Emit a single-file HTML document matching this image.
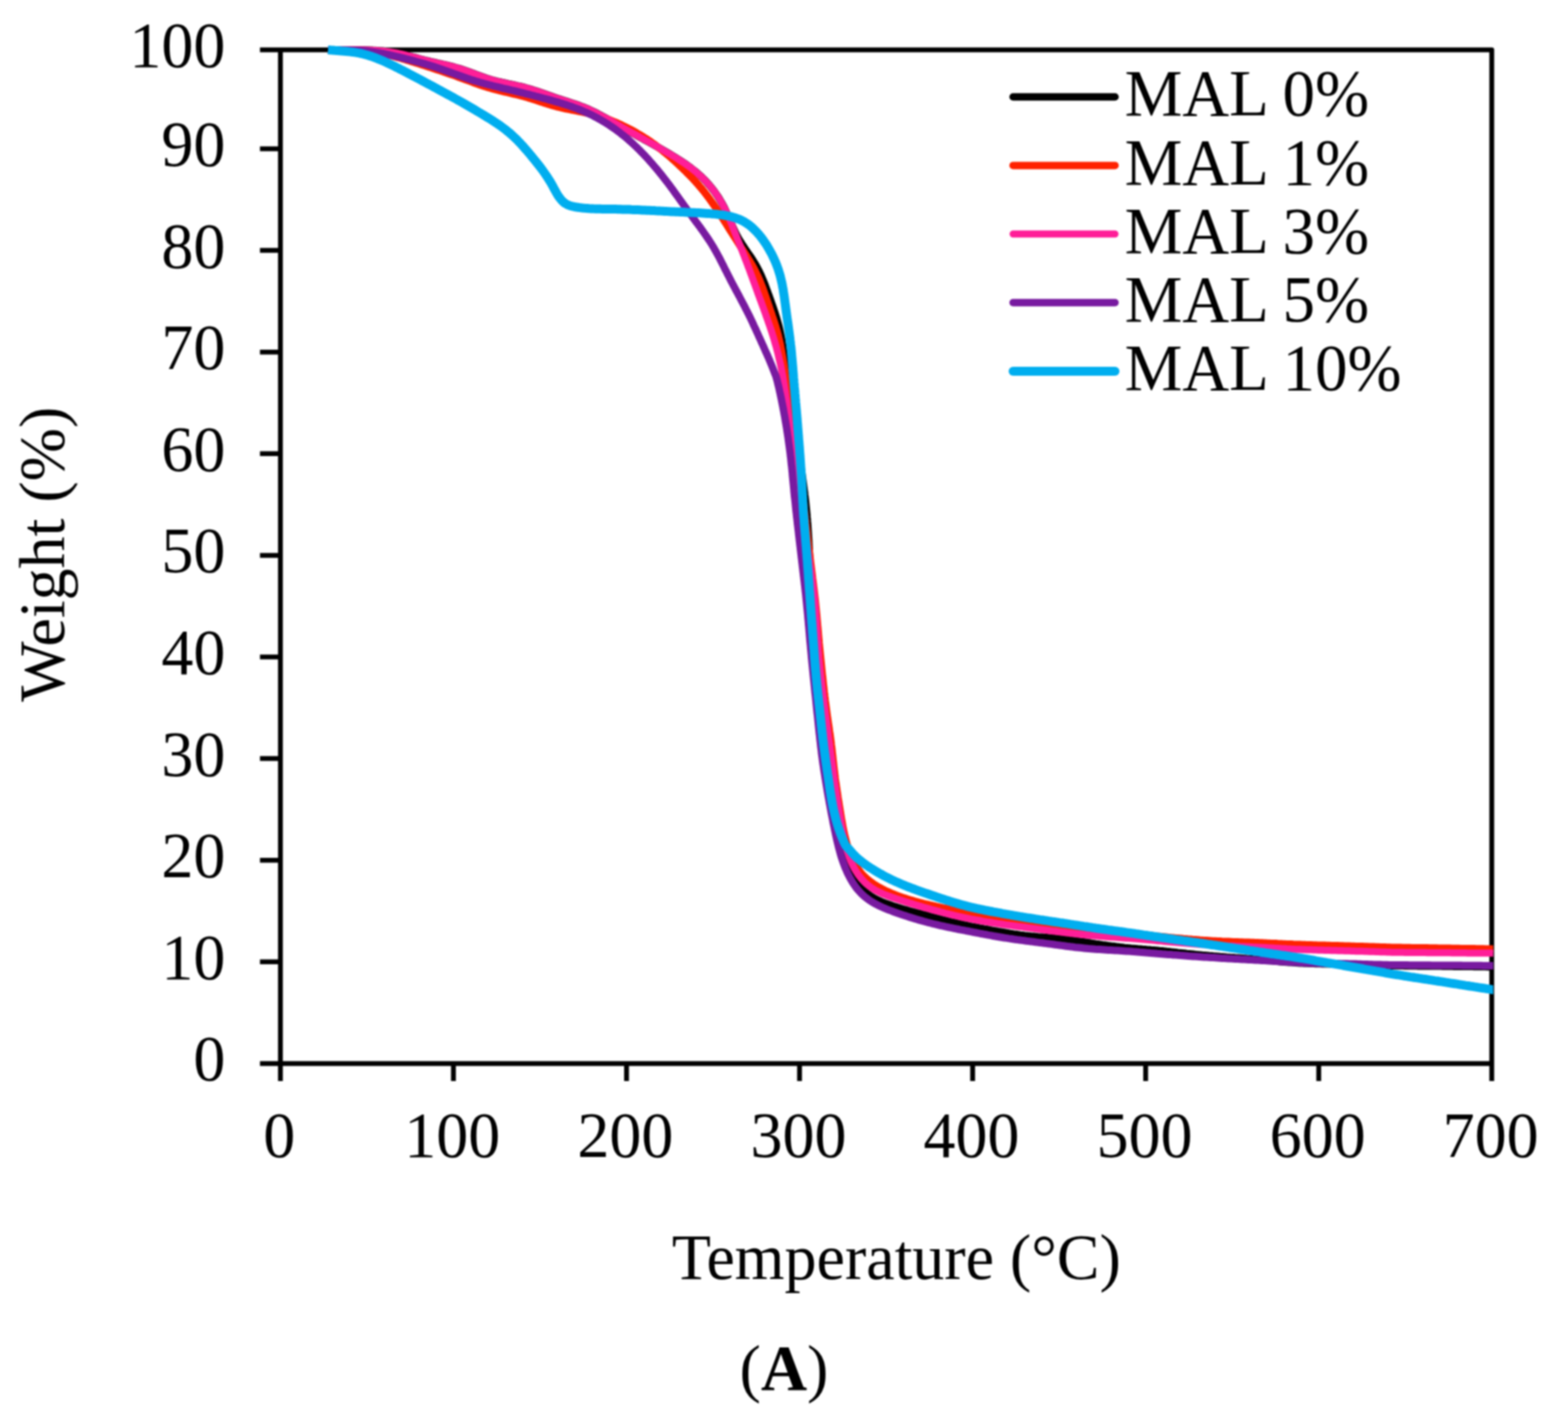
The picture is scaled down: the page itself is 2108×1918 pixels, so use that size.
<!DOCTYPE html>
<html><head><meta charset="utf-8"><title>TGA curves</title>
<style>html,body{margin:0;padding:0;background:#fff;overflow:hidden;}svg{display:block;filter:blur(0.9px);}</style>
</head><body>
<svg width="2108" height="1918" viewBox="0 0 2108 1918">
<rect width="2108" height="1918" fill="#ffffff"/>
<defs><clipPath id="pa"><rect x="377.0" y="50.0" width="1630.5" height="1379.4"/></clipPath></defs>
<path d="M349.5,67.0 H2005.5 V1429.4 M377.0,67.0 V1453.0 M349.5,1429.4 H2005.5 M349.5,1429.4 H377.0 M349.5,1292.8 H377.0 M349.5,1156.2 H377.0 M349.5,1019.6 H377.0 M349.5,883.0 H377.0 M349.5,746.4 H377.0 M349.5,609.8 H377.0 M349.5,473.2 H377.0 M349.5,336.6 H377.0 M349.5,200.0 H377.0 M377.0,1429.4 V1453.0 M609.6,1429.4 V1453.0 M842.3,1429.4 V1453.0 M1074.9,1429.4 V1453.0 M1307.6,1429.4 V1453.0 M1540.2,1429.4 V1453.0 M1772.9,1429.4 V1453.0 M2005.5,1429.4 V1453.0" fill="none" stroke="#000" stroke-width="6.5" stroke-linejoin="round"/>
<g clip-path="url(#pa)" fill="none" stroke-linejoin="round" stroke-linecap="butt">
<path stroke="#000000" stroke-width="10.0" d="M441.0,67.0 L444.0,67.0 L447.0,67.1 L450.0,67.1 L453.0,67.1 L456.0,67.1 L459.0,67.0 L462.0,67.0 L465.0,67.0 L468.0,67.0 L471.0,67.0 L474.0,67.0 L477.0,67.0 L480.0,67.0 L483.0,67.0 L486.0,67.1 L489.0,67.1 L492.0,67.2 L495.0,67.3 L498.0,67.4 L501.0,67.6 L504.0,67.7 L507.0,67.9 L510.0,68.2 L513.0,68.4 L516.0,68.8 L518.9,69.1 L521.9,69.5 L524.9,69.9 L527.8,70.4 L530.8,70.9 L533.7,71.5 L536.7,72.1 L539.6,72.7 L542.5,73.4 L545.5,74.1 L548.4,74.8 L551.3,75.6 L554.2,76.4 L557.1,77.1 L560.0,77.9 L562.9,78.7 L565.8,79.5 L568.7,80.2 L571.6,81.0 L574.5,81.7 L577.4,82.4 L580.3,83.1 L583.2,83.7 L586.2,84.4 L589.1,85.1 L592.0,85.7 L595.0,86.4 L597.9,87.0 L600.8,87.7 L603.7,88.4 L606.6,89.1 L609.5,89.9 L612.4,90.7 L615.3,91.5 L618.2,92.3 L621.1,93.3 L623.9,94.2 L626.7,95.2 L629.6,96.2 L632.4,97.2 L635.2,98.3 L638.0,99.3 L640.8,100.4 L643.6,101.4 L646.4,102.5 L649.3,103.5 L652.1,104.5 L654.9,105.4 L657.8,106.4 L660.7,107.2 L663.6,108.0 L666.5,108.8 L669.4,109.5 L672.3,110.2 L675.2,110.9 L678.1,111.5 L681.1,112.1 L684.0,112.8 L687.0,113.4 L689.9,114.0 L692.8,114.6 L695.8,115.3 L698.7,115.9 L701.6,116.6 L704.5,117.4 L707.4,118.2 L710.3,119.0 L713.2,119.8 L716.0,120.7 L718.9,121.7 L721.7,122.6 L724.6,123.6 L727.4,124.5 L730.2,125.5 L733.1,126.5 L735.9,127.5 L738.7,128.5 L741.6,129.5 L744.4,130.5 L747.2,131.4 L750.1,132.4 L752.9,133.3 L755.8,134.2 L758.7,135.2 L761.5,136.1 L764.4,137.0 L767.2,137.9 L770.1,138.9 L772.9,139.8 L775.8,140.8 L778.6,141.8 L781.4,142.9 L784.2,143.9 L787.0,145.1 L789.7,146.2 L792.5,147.4 L795.2,148.7 L797.9,150.0 L800.6,151.3 L803.3,152.7 L805.9,154.1 L808.6,155.5 L811.2,157.0 L813.8,158.4 L816.4,159.9 L819.0,161.4 L821.6,162.9 L824.2,164.4 L826.8,165.9 L829.4,167.4 L832.1,168.9 L834.7,170.3 L837.3,171.8 L839.9,173.3 L842.5,174.7 L845.2,176.2 L847.8,177.6 L850.4,179.0 L853.1,180.5 L855.7,181.9 L858.3,183.3 L861.0,184.8 L863.6,186.2 L866.2,187.7 L868.9,189.1 L871.5,190.5 L874.1,192.0 L876.7,193.4 L879.4,194.9 L882.0,196.4 L884.6,197.8 L887.2,199.3 L889.8,200.8 L892.4,202.3 L895.0,203.8 L897.6,205.3 L900.2,206.8 L902.8,208.4 L905.3,210.0 L907.9,211.5 L910.4,213.1 L912.9,214.7 L915.5,216.4 L918.0,218.0 L920.4,219.7 L922.9,221.4 L925.4,223.2 L927.8,224.9 L930.2,226.8 L932.5,228.6 L934.9,230.5 L937.2,232.4 L939.4,234.4 L941.7,236.4 L943.8,238.4 L946.0,240.5 L948.1,242.7 L950.1,244.9 L952.1,247.1 L954.1,249.4 L956.0,251.7 L957.9,254.1 L959.7,256.4 L961.5,258.9 L963.2,261.3 L964.9,263.8 L966.5,266.3 L968.1,268.9 L969.6,271.5 L971.1,274.1 L972.5,276.7 L973.9,279.4 L981.3,295.9 L982.5,298.7 L983.6,301.5 L984.8,304.2 L986.0,307.0 L987.3,309.7 L988.6,312.4 L989.9,315.1 L991.3,317.7 L992.8,320.4 L994.3,323.0 L995.9,325.5 L997.5,328.0 L999.2,330.5 L1000.8,333.0 L1002.5,335.5 L1004.2,338.0 L1005.9,340.5 L1007.6,342.9 L1009.3,345.4 L1011.0,347.9 L1012.6,350.4 L1014.2,353.0 L1015.7,355.6 L1017.2,358.2 L1018.6,360.8 L1020.0,363.5 L1021.3,366.2 L1022.6,368.9 L1023.8,371.6 L1025.0,374.4 L1026.2,377.2 L1027.3,379.9 L1028.4,382.7 L1029.4,385.5 L1030.5,388.4 L1031.5,391.2 L1032.5,394.0 L1033.6,396.8 L1034.6,399.6 L1035.6,402.5 L1036.6,405.3 L1037.6,408.1 L1038.6,411.0 L1039.6,413.8 L1040.5,416.6 L1041.5,419.5 L1042.4,422.3 L1043.3,425.2 L1044.2,428.1 L1045.0,431.0 L1045.8,433.8 L1046.6,436.7 L1047.4,439.7 L1048.1,442.6 L1048.7,445.5 L1049.3,448.4 L1049.9,451.4 L1050.4,454.3 L1051.0,457.3 L1051.4,460.3 L1051.9,463.2 L1052.4,466.2 L1052.8,469.2 L1053.2,472.1 L1053.6,475.1 L1054.0,478.1 L1054.4,481.1 L1054.8,484.0 L1055.2,487.0 L1055.6,490.0 L1056.0,493.0 L1056.4,495.9 L1056.8,498.9 L1057.2,501.9 L1057.6,504.8 L1058.1,507.8 L1058.5,510.8 L1059.0,513.8 L1059.4,516.7 L1059.9,519.7 L1060.3,522.7 L1060.8,525.6 L1061.3,528.6 L1061.8,531.5 L1062.3,534.5 L1062.8,537.5 L1063.3,540.4 L1063.8,543.4 L1064.3,546.3 L1064.9,549.3 L1065.4,552.2 L1065.9,555.2 L1066.4,558.2 L1066.9,561.1 L1067.4,564.1 L1067.9,567.0 L1068.4,570.0 L1068.9,573.0 L1069.4,575.9 L1069.9,578.9 L1070.3,581.8 L1070.8,584.8 L1071.2,587.8 L1071.7,590.7 L1072.1,593.7 L1072.5,596.7 L1073.0,599.7 L1073.4,602.6 L1073.8,605.6 L1074.2,608.6 L1074.6,611.6 L1075.0,614.5 L1075.4,617.5 L1075.9,620.5 L1076.3,623.4 L1076.7,626.4 L1077.1,629.4 L1077.5,632.4 L1078.0,635.3 L1078.4,638.3 L1078.8,641.3 L1079.2,644.2 L1079.6,647.2 L1080.0,650.2 L1080.4,653.2 L1080.8,656.1 L1081.2,659.1 L1081.6,662.1 L1081.9,665.1 L1082.3,668.1 L1082.6,671.0 L1083.0,674.0 L1083.3,677.0 L1083.6,680.0 L1083.9,683.0 L1084.2,686.0 L1084.5,689.0 L1084.8,691.9 L1085.0,694.9 L1085.3,697.9 L1085.5,700.9 L1085.8,703.9 L1086.0,706.9 L1086.2,709.9 L1086.4,712.9 L1086.6,715.9 L1086.8,718.9 L1087.0,721.9 L1087.2,724.9 L1087.4,727.9 L1087.5,730.9 L1087.7,733.9 L1087.8,736.9 L1088.0,739.9 L1088.1,742.8 L1088.3,745.8 L1088.4,748.8 L1088.6,751.8 L1088.7,754.8 L1088.9,757.8 L1089.1,760.8 L1089.2,763.8 L1089.4,766.8 L1089.6,769.8 L1089.7,772.8 L1089.9,775.8 L1090.1,778.8 L1090.3,781.8 L1090.5,784.8 L1090.7,787.8 L1090.9,790.8 L1091.1,793.8 L1091.3,796.8 L1091.5,799.8 L1091.7,802.8 L1091.9,805.8 L1092.2,808.8 L1092.4,811.7 L1092.6,814.7 L1092.9,817.7 L1093.1,820.7 L1093.4,823.7 L1093.6,826.7 L1093.8,829.7 L1094.1,832.7 L1094.3,835.7 L1094.6,838.7 L1094.8,841.7 L1095.1,844.7 L1095.3,847.6 L1095.6,850.6 L1095.8,853.6 L1096.0,856.6 L1096.3,859.6 L1096.5,862.6 L1096.7,865.6 L1097.0,868.6 L1097.2,871.6 L1097.4,874.6 L1097.7,877.6 L1097.9,880.6 L1098.2,883.6 L1098.4,886.5 L1098.6,889.5 L1098.9,892.5 L1099.1,895.5 L1099.4,898.5 L1099.6,901.5 L1099.9,904.5 L1100.2,907.5 L1100.4,910.5 L1100.7,913.5 L1101.0,916.4 L1101.3,919.4 L1101.5,922.4 L1101.8,925.4 L1102.1,928.4 L1102.4,931.4 L1102.8,934.4 L1103.1,937.4 L1103.4,940.3 L1103.7,943.3 L1104.1,946.3 L1104.4,949.3 L1104.8,952.3 L1105.1,955.2 L1105.5,958.2 L1105.9,961.2 L1106.2,964.2 L1106.6,967.2 L1106.9,970.1 L1107.3,973.1 L1107.7,976.1 L1108.0,979.1 L1108.4,982.1 L1108.7,985.0 L1109.1,988.0 L1109.4,991.0 L1109.8,994.0 L1110.1,997.0 L1110.5,999.9 L1110.9,1002.9 L1111.2,1005.9 L1111.6,1008.9 L1111.9,1011.9 L1112.3,1014.8 L1112.7,1017.8 L1113.1,1020.8 L1113.5,1023.8 L1113.9,1026.7 L1114.3,1029.7 L1114.8,1032.7 L1115.2,1035.6 L1115.7,1038.6 L1116.1,1041.6 L1116.6,1044.5 L1117.0,1047.5 L1117.5,1050.5 L1118.0,1053.4 L1118.5,1056.4 L1119.0,1059.4 L1119.4,1062.3 L1119.9,1065.3 L1120.4,1068.3 L1120.9,1071.2 L1121.3,1074.2 L1121.8,1077.1 L1122.3,1080.1 L1122.7,1083.1 L1123.2,1086.0 L1123.7,1089.0 L1124.2,1092.0 L1124.7,1094.9 L1125.2,1097.9 L1125.7,1100.8 L1126.2,1103.8 L1126.8,1106.7 L1127.3,1109.7 L1127.9,1112.6 L1128.5,1115.6 L1129.1,1118.5 L1129.8,1121.4 L1130.5,1124.4 L1131.2,1127.3 L1131.9,1130.2 L1132.7,1133.1 L1133.5,1136.0 L1134.3,1138.9 L1135.1,1141.8 L1136.0,1144.6 L1136.9,1147.5 L1137.8,1150.4 L1138.7,1153.2 L1139.7,1156.1 L1140.7,1158.9 L1141.7,1161.7 L1142.8,1164.5 L1143.9,1167.3 L1145.0,1170.1 L1146.2,1172.9 L1147.4,1175.6 L1148.7,1178.3 L1150.1,1180.9 L1151.6,1183.6 L1153.1,1186.1 L1154.8,1188.6 L1156.5,1191.1 L1158.4,1193.4 L1160.4,1195.7 L1162.4,1197.9 L1164.7,1199.9 L1167.0,1201.8 L1169.4,1203.6 L1171.9,1205.2 L1174.5,1206.8 L1177.1,1208.2 L1179.8,1209.6 L1182.5,1210.9 L1185.2,1212.1 L1188.0,1213.2 L1190.8,1214.3 L1193.6,1215.3 L1196.5,1216.3 L1199.3,1217.3 L1202.2,1218.2 L1205.0,1219.1 L1207.9,1220.0 L1210.8,1220.9 L1213.6,1221.7 L1216.5,1222.5 L1219.4,1223.4 L1222.3,1224.2 L1225.2,1225.0 L1228.1,1225.8 L1231.0,1226.6 L1233.9,1227.3 L1236.8,1228.1 L1239.7,1228.9 L1242.6,1229.6 L1245.5,1230.4 L1248.4,1231.2 L1251.3,1232.0 L1254.2,1232.7 L1257.1,1233.5 L1260.0,1234.3 L1262.9,1235.0 L1265.8,1235.8 L1268.7,1236.5 L1271.6,1237.3 L1274.5,1238.0 L1277.4,1238.8 L1280.3,1239.5 L1283.3,1240.2 L1286.2,1240.9 L1289.1,1241.6 L1292.0,1242.2 L1295.0,1242.9 L1297.9,1243.5 L1300.8,1244.1 L1303.8,1244.8 L1306.7,1245.4 L1309.6,1245.9 L1312.6,1246.5 L1315.5,1247.1 L1318.5,1247.7 L1321.4,1248.2 L1324.4,1248.8 L1327.3,1249.3 L1330.3,1249.8 L1333.2,1250.4 L1336.2,1250.9 L1339.2,1251.4 L1342.1,1252.0 L1345.1,1252.5 L1348.0,1253.0 L1351.0,1253.5 L1353.9,1254.0 L1356.9,1254.5 L1359.9,1254.9 L1362.8,1255.4 L1365.8,1255.8 L1368.8,1256.3 L1371.7,1256.7 L1374.7,1257.0 L1377.7,1257.4 L1380.7,1257.7 L1383.7,1258.1 L1386.7,1258.4 L1389.6,1258.6 L1392.6,1258.9 L1395.6,1259.2 L1398.6,1259.4 L1401.6,1259.6 L1404.6,1259.9 L1407.6,1260.1 L1410.6,1260.4 L1413.6,1260.6 L1416.6,1260.9 L1419.6,1261.2 L1422.5,1261.5 L1425.5,1261.8 L1428.5,1262.1 L1431.5,1262.5 L1434.5,1262.8 L1437.4,1263.2 L1440.4,1263.6 L1443.4,1264.1 L1446.4,1264.5 L1449.3,1264.9 L1452.3,1265.4 L1455.3,1265.8 L1458.2,1266.3 L1461.2,1266.8 L1464.2,1267.2 L1467.1,1267.7 L1470.1,1268.1 L1473.1,1268.6 L1476.0,1269.0 L1479.0,1269.4 L1482.0,1269.9 L1484.9,1270.3 L1487.9,1270.7 L1490.9,1271.1 L1493.9,1271.5 L1496.9,1271.8 L1499.8,1272.2 L1502.8,1272.6 L1505.8,1272.9 L1508.8,1273.2 L1511.8,1273.6 L1514.7,1273.9 L1517.7,1274.2 L1520.7,1274.5 L1523.7,1274.7 L1526.7,1275.0 L1529.7,1275.3 L1532.7,1275.5 L1535.7,1275.8 L1538.7,1276.0 L1541.6,1276.3 L1544.6,1276.5 L1547.6,1276.8 L1550.6,1277.0 L1553.6,1277.3 L1556.6,1277.6 L1559.6,1277.9 L1562.6,1278.1 L1565.6,1278.4 L1568.5,1278.8 L1571.5,1279.1 L1574.5,1279.4 L1577.5,1279.7 L1580.5,1280.0 L1583.5,1280.4 L1586.5,1280.7 L1589.4,1281.0 L1592.4,1281.3 L1595.4,1281.7 L1598.4,1282.0 L1601.4,1282.3 L1604.4,1282.6 L1607.3,1282.9 L1610.3,1283.2 L1613.3,1283.5 L1616.3,1283.8 L1619.3,1284.0 L1622.3,1284.3 L1625.3,1284.6 L1628.3,1284.8 L1631.3,1285.1 L1634.2,1285.3 L1637.2,1285.5 L1640.2,1285.8 L1643.2,1286.0 L1646.2,1286.2 L1649.2,1286.5 L1652.2,1286.7 L1655.2,1286.9 L1658.2,1287.1 L1661.2,1287.4 L1664.2,1287.6 L1667.2,1287.8 L1670.2,1288.0 L1673.2,1288.2 L1676.1,1288.5 L1679.1,1288.7 L1682.1,1288.9 L1685.1,1289.2 L1688.1,1289.4 L1691.1,1289.7 L1694.1,1289.9 L1697.1,1290.2 L1700.1,1290.5 L1703.1,1290.7 L1706.1,1291.0 L1709.0,1291.3 L1712.0,1291.6 L1715.0,1291.9 L1718.0,1292.1 L1721.0,1292.4 L1724.0,1292.7 L1727.0,1292.9 L1730.0,1293.2 L1733.0,1293.4 L1736.0,1293.6 L1738.9,1293.8 L1741.9,1294.0 L1744.9,1294.2 L1747.9,1294.4 L1750.9,1294.5 L1753.9,1294.7 L1756.9,1294.8 L1759.9,1294.9 L1762.9,1295.0 L1765.9,1295.1 L1768.9,1295.2 L1771.9,1295.2 L1774.9,1295.3 L1777.9,1295.4 L1780.9,1295.5 L1783.9,1295.5 L1786.9,1295.6 L1789.9,1295.7 L1792.9,1295.7 L1795.9,1295.8 L1798.9,1295.9 L1801.9,1295.9 L1804.9,1296.0 L1807.9,1296.1 L1810.9,1296.2 L1813.9,1296.2 L1816.9,1296.3 L1819.9,1296.4 L1822.9,1296.5 L1825.9,1296.6 L1828.9,1296.6 L1831.9,1296.7 L1834.9,1296.8 L1837.9,1296.9 L1840.9,1297.0 L1843.9,1297.1 L1846.9,1297.2 L1849.9,1297.3 L1852.9,1297.4 L1855.9,1297.5 L1858.9,1297.6 L1861.9,1297.6 L1864.9,1297.7 L1867.9,1297.8 L1870.9,1297.9 L1873.9,1297.9 L1876.9,1298.0 L1879.9,1298.0 L1882.9,1298.1 L1885.9,1298.1 L1888.9,1298.2 L1892.0,1298.2 L1895.0,1298.3 L1898.0,1298.3 L1901.0,1298.3 L1904.0,1298.3 L1907.0,1298.4 L1910.0,1298.4 L1913.0,1298.4 L1916.0,1298.4 L1919.0,1298.5 L1922.0,1298.5 L1925.0,1298.5 L1928.0,1298.5 L1931.0,1298.6 L1934.0,1298.6 L1937.0,1298.6 L1940.0,1298.7 L1943.0,1298.7 L1946.0,1298.8 L1949.0,1298.8 L1952.0,1298.8 L1955.0,1298.9 L1958.0,1298.9 L1961.0,1298.9 L1964.0,1299.0 L1967.0,1299.0 L1970.0,1299.0 L1973.0,1299.1 L1976.0,1299.1 L1979.0,1299.1 L1982.0,1299.2 L1985.0,1299.2 L1988.0,1299.2 L1991.0,1299.3 L1994.0,1299.3 L1997.0,1299.3 L2000.0,1299.4 L2003.0,1299.4 L2006.0,1299.4 L2009.0,1299.5 L2012.0,1299.5"/>
<path stroke="#FF2200" stroke-width="10.0" d="M441.0,67.0 L444.0,67.2 L447.0,67.3 L450.0,67.4 L453.0,67.4 L456.0,67.4 L459.0,67.5 L462.0,67.5 L465.0,67.5 L468.0,67.5 L471.0,67.5 L474.0,67.5 L477.0,67.6 L480.0,67.7 L483.0,67.8 L486.0,68.0 L489.0,68.3 L492.0,68.6 L495.0,68.9 L498.0,69.3 L500.9,69.7 L503.9,70.2 L506.9,70.7 L509.8,71.3 L512.8,71.8 L515.7,72.5 L518.6,73.1 L521.5,73.8 L524.5,74.5 L527.4,75.2 L530.3,76.0 L533.2,76.8 L536.1,77.5 L539.0,78.3 L541.9,79.2 L544.8,80.0 L547.6,80.9 L550.5,81.7 L553.4,82.6 L556.2,83.5 L559.1,84.4 L562.0,85.3 L564.8,86.2 L567.7,87.1 L570.6,88.0 L573.4,89.0 L576.3,89.9 L579.1,90.8 L582.0,91.8 L584.8,92.7 L587.7,93.7 L590.5,94.6 L593.4,95.6 L596.2,96.5 L599.0,97.5 L601.9,98.5 L604.7,99.5 L607.6,100.4 L610.4,101.4 L613.2,102.4 L616.1,103.5 L618.9,104.5 L621.7,105.5 L624.5,106.5 L627.3,107.6 L630.2,108.6 L633.0,109.6 L635.8,110.7 L638.6,111.7 L641.5,112.7 L644.3,113.7 L647.1,114.7 L650.0,115.6 L652.8,116.5 L655.7,117.4 L658.6,118.3 L661.5,119.1 L664.4,119.9 L667.3,120.7 L670.2,121.4 L673.1,122.2 L676.0,122.9 L678.9,123.6 L681.8,124.2 L684.8,124.9 L687.7,125.6 L690.6,126.3 L693.5,127.0 L696.5,127.7 L699.4,128.4 L702.3,129.2 L705.2,129.9 L708.1,130.8 L710.9,131.6 L713.8,132.5 L716.7,133.4 L719.5,134.3 L722.4,135.3 L725.2,136.2 L728.1,137.1 L730.9,138.1 L733.8,139.0 L736.7,139.9 L739.5,140.8 L742.4,141.7 L745.3,142.5 L748.2,143.3 L751.1,144.0 L754.0,144.7 L757.0,145.4 L759.9,146.0 L762.8,146.6 L765.8,147.2 L768.7,147.8 L771.7,148.3 L774.6,148.9 L777.6,149.5 L780.5,150.1 L783.5,150.7 L786.4,151.3 L789.3,151.9 L792.3,152.6 L795.2,153.3 L798.1,154.1 L801.0,154.9 L803.8,155.7 L806.7,156.6 L809.6,157.6 L812.4,158.5 L815.2,159.5 L818.0,160.6 L820.8,161.7 L823.6,162.8 L826.4,164.0 L829.2,165.1 L831.9,166.4 L834.6,167.6 L837.3,168.9 L840.0,170.2 L842.7,171.6 L845.4,172.9 L848.1,174.3 L850.7,175.7 L853.3,177.2 L856.0,178.7 L858.5,180.2 L861.1,181.7 L863.7,183.3 L866.2,184.9 L868.8,186.5 L871.3,188.2 L873.8,189.8 L876.2,191.6 L878.7,193.3 L881.1,195.1 L883.5,196.9 L885.9,198.7 L888.3,200.5 L890.6,202.4 L892.9,204.3 L895.2,206.2 L897.5,208.1 L899.8,210.1 L902.1,212.1 L904.3,214.1 L906.6,216.1 L908.8,218.1 L911.0,220.1 L913.2,222.2 L915.4,224.2 L917.6,226.3 L919.7,228.4 L921.9,230.5 L924.0,232.6 L926.1,234.7 L928.2,236.9 L930.3,239.0 L932.3,241.2 L934.4,243.4 L936.4,245.7 L938.4,247.9 L940.3,250.2 L942.3,252.5 L944.2,254.8 L946.1,257.1 L947.9,259.5 L949.8,261.9 L951.6,264.3 L953.4,266.7 L955.1,269.1 L956.9,271.6 L958.6,274.0 L960.3,276.5 L962.0,279.0 L963.6,281.5 L965.3,284.0 L967.0,286.5 L968.6,289.0 L970.2,291.5 L971.9,294.0 L973.5,296.6 L975.1,299.1 L976.7,301.6 L978.3,304.2 L979.9,306.7 L981.5,309.3 L983.1,311.8 L984.7,314.3 L986.3,316.9 L987.9,319.4 L989.5,321.9 L991.2,324.5 L992.8,327.0 L994.4,329.5 L996.0,332.1 L997.6,334.6 L999.3,337.1 L1000.9,339.6 L1002.5,342.2 L1004.1,344.7 L1005.7,347.3 L1007.2,349.8 L1008.8,352.4 L1010.3,355.0 L1011.8,357.6 L1013.2,360.2 L1014.6,362.9 L1016.0,365.6 L1017.3,368.3 L1018.6,371.0 L1019.9,373.7 L1021.1,376.5 L1022.2,379.2 L1023.3,382.0 L1024.4,384.8 L1025.5,387.6 L1026.5,390.5 L1027.5,393.3 L1028.5,396.1 L1029.5,399.0 L1030.4,401.8 L1031.4,404.6 L1032.3,407.5 L1033.3,410.3 L1034.3,413.2 L1035.2,416.0 L1036.2,418.9 L1037.2,421.7 L1038.1,424.6 L1039.1,427.4 L1040.0,430.3 L1041.0,433.1 L1041.9,436.0 L1042.8,438.8 L1043.6,441.7 L1044.5,444.6 L1045.3,447.5 L1046.1,450.4 L1046.8,453.3 L1047.5,456.2 L1048.2,459.1 L1048.9,462.1 L1049.5,465.0 L1050.0,467.9 L1050.6,470.9 L1051.1,473.9 L1051.6,476.8 L1052.1,479.8 L1052.6,482.7 L1053.1,485.7 L1053.5,488.7 L1054.0,491.6 L1054.4,494.6 L1054.9,497.6 L1055.3,500.6 L1055.8,503.5 L1056.3,506.5 L1056.7,509.5 L1057.2,512.4 L1057.7,515.4 L1058.1,518.4 L1058.6,521.3 L1059.1,524.3 L1059.5,527.2 L1060.0,530.2 L1060.5,533.2 L1060.9,536.1 L1061.4,539.1 L1061.8,542.1 L1062.3,545.1 L1062.7,548.0 L1063.2,551.0 L1063.6,554.0 L1064.0,556.9 L1064.4,559.9 L1064.8,562.9 L1065.2,565.9 L1065.7,568.8 L1066.1,571.8 L1066.5,574.8 L1066.9,577.8 L1067.3,580.7 L1067.7,583.7 L1068.1,586.7 L1068.5,589.7 L1068.9,592.6 L1069.4,595.6 L1069.8,598.6 L1070.2,601.6 L1070.6,604.5 L1071.1,607.5 L1071.5,610.5 L1071.9,613.4 L1072.4,616.4 L1072.8,619.4 L1073.2,622.4 L1073.6,625.3 L1074.1,628.3 L1074.5,631.3 L1074.9,634.2 L1075.3,637.2 L1075.7,640.2 L1076.1,643.2 L1076.5,646.2 L1076.9,649.1 L1077.3,652.1 L1077.6,655.1 L1078.0,658.1 L1078.4,661.0 L1078.8,664.0 L1079.1,667.0 L1079.5,670.0 L1079.8,673.0 L1080.2,676.0 L1080.5,678.9 L1080.9,681.9 L1081.2,684.9 L1081.6,687.9 L1081.9,690.9 L1082.3,693.8 L1082.6,696.8 L1083.0,699.8 L1083.3,702.8 L1083.7,705.8 L1084.0,708.8 L1084.4,711.7 L1084.7,714.7 L1085.1,717.7 L1085.4,720.7 L1085.8,723.7 L1086.1,726.7 L1086.5,729.6 L1086.8,732.6 L1087.2,735.6 L1087.6,738.6 L1088.0,741.6 L1088.3,744.5 L1088.7,747.5 L1089.1,750.5 L1089.4,753.5 L1089.8,756.5 L1090.2,759.4 L1090.6,762.4 L1090.9,765.4 L1091.3,768.4 L1091.7,771.3 L1092.1,774.3 L1092.4,777.3 L1092.8,780.3 L1093.2,783.3 L1093.5,786.2 L1093.9,789.2 L1094.3,792.2 L1094.6,795.2 L1095.0,798.2 L1095.3,801.2 L1095.7,804.1 L1096.0,807.1 L1096.3,810.1 L1096.6,813.1 L1096.9,816.1 L1097.2,819.1 L1097.5,822.1 L1097.8,825.0 L1098.1,828.0 L1098.3,831.0 L1098.6,834.0 L1098.9,837.0 L1099.1,840.0 L1099.4,843.0 L1099.7,846.0 L1099.9,849.0 L1100.2,852.0 L1100.4,855.0 L1100.7,858.0 L1101.0,860.9 L1101.2,863.9 L1101.5,866.9 L1101.8,869.9 L1102.1,872.9 L1102.4,875.9 L1102.7,878.9 L1103.0,881.9 L1103.3,884.9 L1103.6,887.8 L1103.9,890.8 L1104.2,893.8 L1104.5,896.8 L1104.8,899.8 L1105.1,902.8 L1105.4,905.8 L1105.7,908.7 L1106.1,911.7 L1106.4,914.7 L1106.7,917.7 L1107.0,920.7 L1107.4,923.7 L1107.7,926.7 L1108.0,929.6 L1108.4,932.6 L1108.7,935.6 L1109.1,938.6 L1109.4,941.6 L1109.8,944.5 L1110.2,947.5 L1110.6,950.5 L1111.0,953.5 L1111.4,956.5 L1111.8,959.4 L1112.2,962.4 L1112.6,965.4 L1113.1,968.3 L1113.5,971.3 L1113.9,974.3 L1114.4,977.3 L1114.8,980.2 L1115.2,983.2 L1115.7,986.2 L1116.1,989.2 L1116.5,992.1 L1116.9,995.1 L1117.3,998.1 L1117.6,1001.1 L1118.0,1004.0 L1118.4,1007.0 L1118.7,1010.0 L1119.0,1013.0 L1119.4,1016.0 L1119.7,1019.0 L1120.0,1021.9 L1120.4,1024.9 L1120.7,1027.9 L1121.0,1030.9 L1121.4,1033.9 L1121.7,1036.9 L1122.1,1039.8 L1122.5,1042.8 L1122.8,1045.8 L1123.2,1048.8 L1123.6,1051.8 L1124.1,1054.7 L1124.5,1057.7 L1124.9,1060.7 L1125.4,1063.6 L1125.8,1066.6 L1126.3,1069.6 L1126.7,1072.5 L1127.2,1075.5 L1127.7,1078.5 L1128.1,1081.4 L1128.6,1084.4 L1129.1,1087.4 L1129.6,1090.3 L1130.1,1093.3 L1130.5,1096.3 L1131.0,1099.2 L1131.5,1102.2 L1132.1,1105.1 L1132.6,1108.1 L1133.1,1111.0 L1133.7,1114.0 L1134.3,1116.9 L1134.9,1119.9 L1135.6,1122.8 L1136.3,1125.7 L1137.0,1128.6 L1137.8,1131.5 L1138.6,1134.4 L1139.5,1137.3 L1140.4,1140.2 L1141.3,1143.0 L1142.4,1145.8 L1143.4,1148.6 L1144.6,1151.4 L1145.8,1154.2 L1147.1,1156.9 L1148.4,1159.6 L1149.9,1162.2 L1151.4,1164.8 L1153.1,1167.3 L1154.8,1169.7 L1156.6,1172.1 L1158.5,1174.4 L1160.6,1176.6 L1162.7,1178.8 L1164.9,1180.8 L1167.2,1182.7 L1169.5,1184.6 L1172.0,1186.4 L1174.4,1188.1 L1176.9,1189.7 L1179.5,1191.3 L1182.1,1192.8 L1184.8,1194.2 L1187.4,1195.6 L1190.1,1196.9 L1192.8,1198.2 L1195.6,1199.4 L1198.3,1200.6 L1201.1,1201.7 L1203.9,1202.8 L1206.7,1203.9 L1209.5,1204.9 L1212.4,1205.9 L1215.2,1206.9 L1218.1,1207.8 L1220.9,1208.7 L1223.8,1209.6 L1226.7,1210.4 L1229.6,1211.2 L1232.5,1212.0 L1235.4,1212.8 L1238.3,1213.5 L1241.2,1214.3 L1244.1,1215.0 L1247.0,1215.7 L1250.0,1216.4 L1252.9,1217.0 L1255.8,1217.7 L1258.8,1218.4 L1261.7,1219.0 L1264.6,1219.7 L1267.6,1220.3 L1270.5,1220.9 L1273.4,1221.5 L1276.4,1222.1 L1279.3,1222.8 L1282.3,1223.4 L1285.2,1224.0 L1288.1,1224.6 L1291.1,1225.2 L1294.0,1225.8 L1297.0,1226.4 L1299.9,1227.0 L1302.8,1227.5 L1305.8,1228.1 L1308.7,1228.7 L1311.7,1229.3 L1314.6,1229.9 L1317.6,1230.4 L1320.5,1231.0 L1323.5,1231.6 L1326.4,1232.1 L1329.4,1232.7 L1332.3,1233.2 L1335.3,1233.8 L1338.2,1234.3 L1341.2,1234.8 L1344.2,1235.4 L1347.1,1235.9 L1350.1,1236.4 L1353.0,1236.9 L1356.0,1237.3 L1359.0,1237.8 L1361.9,1238.3 L1364.9,1238.7 L1367.9,1239.1 L1370.8,1239.6 L1373.8,1240.0 L1376.8,1240.4 L1379.8,1240.7 L1382.8,1241.1 L1385.7,1241.5 L1388.7,1241.8 L1391.7,1242.2 L1394.7,1242.5 L1397.7,1242.8 L1400.7,1243.2 L1403.6,1243.5 L1406.6,1243.8 L1409.6,1244.1 L1412.6,1244.5 L1415.6,1244.8 L1418.6,1245.2 L1421.5,1245.5 L1424.5,1245.9 L1427.5,1246.2 L1430.5,1246.6 L1433.5,1247.0 L1436.4,1247.3 L1439.4,1247.7 L1442.4,1248.1 L1445.4,1248.4 L1448.4,1248.8 L1451.4,1249.1 L1454.3,1249.5 L1457.3,1249.8 L1460.3,1250.1 L1463.3,1250.4 L1466.3,1250.7 L1469.3,1251.0 L1472.3,1251.3 L1475.3,1251.6 L1478.2,1251.8 L1481.2,1252.1 L1484.2,1252.3 L1487.2,1252.5 L1490.2,1252.8 L1493.2,1253.0 L1496.2,1253.2 L1499.2,1253.4 L1502.2,1253.7 L1505.2,1253.9 L1508.2,1254.1 L1511.2,1254.3 L1514.2,1254.6 L1517.2,1254.8 L1520.2,1255.1 L1523.1,1255.3 L1526.1,1255.6 L1529.1,1255.8 L1532.1,1256.1 L1535.1,1256.4 L1538.1,1256.7 L1541.1,1256.9 L1544.1,1257.2 L1547.1,1257.5 L1550.1,1257.8 L1553.0,1258.1 L1556.0,1258.4 L1559.0,1258.7 L1562.0,1259.0 L1565.0,1259.3 L1568.0,1259.6 L1571.0,1259.9 L1574.0,1260.2 L1577.0,1260.5 L1579.9,1260.8 L1582.9,1261.0 L1585.9,1261.3 L1588.9,1261.6 L1591.9,1261.9 L1594.9,1262.1 L1597.9,1262.4 L1600.9,1262.6 L1603.9,1262.9 L1606.9,1263.1 L1609.9,1263.3 L1612.9,1263.6 L1615.8,1263.8 L1618.8,1264.0 L1621.8,1264.1 L1624.8,1264.3 L1627.8,1264.5 L1630.8,1264.7 L1633.8,1264.8 L1636.8,1265.0 L1639.8,1265.1 L1642.8,1265.3 L1645.8,1265.4 L1648.8,1265.5 L1651.8,1265.6 L1654.8,1265.7 L1657.8,1265.9 L1660.8,1266.0 L1663.8,1266.1 L1666.8,1266.2 L1669.8,1266.3 L1672.8,1266.4 L1675.8,1266.5 L1678.8,1266.6 L1681.8,1266.7 L1684.8,1266.8 L1687.8,1266.9 L1690.8,1267.0 L1693.8,1267.2 L1696.8,1267.3 L1699.8,1267.4 L1702.8,1267.6 L1705.8,1267.7 L1708.8,1267.9 L1711.8,1268.0 L1714.8,1268.1 L1717.8,1268.3 L1720.8,1268.4 L1723.8,1268.6 L1726.8,1268.7 L1729.8,1268.9 L1732.8,1269.0 L1735.8,1269.1 L1738.8,1269.3 L1741.8,1269.4 L1744.8,1269.5 L1747.8,1269.6 L1750.8,1269.7 L1753.8,1269.8 L1756.8,1269.9 L1759.8,1270.0 L1762.8,1270.1 L1765.8,1270.2 L1768.8,1270.3 L1771.8,1270.4 L1774.8,1270.5 L1777.8,1270.6 L1780.8,1270.6 L1783.8,1270.7 L1786.9,1270.8 L1789.9,1270.9 L1792.9,1271.0 L1795.9,1271.1 L1798.9,1271.1 L1801.9,1271.2 L1804.9,1271.3 L1807.9,1271.4 L1810.9,1271.5 L1813.9,1271.6 L1816.9,1271.7 L1819.9,1271.8 L1822.9,1271.9 L1825.9,1272.0 L1828.9,1272.0 L1831.9,1272.1 L1834.9,1272.2 L1837.9,1272.3 L1840.9,1272.4 L1843.9,1272.5 L1846.9,1272.6 L1849.9,1272.7 L1852.9,1272.8 L1855.9,1272.9 L1858.9,1273.0 L1861.9,1273.1 L1864.9,1273.2 L1867.9,1273.3 L1870.9,1273.4 L1873.9,1273.4 L1876.9,1273.5 L1879.9,1273.6 L1882.9,1273.6 L1885.9,1273.7 L1888.9,1273.7 L1891.9,1273.8 L1894.9,1273.8 L1897.9,1273.9 L1900.9,1273.9 L1903.9,1273.9 L1906.9,1274.0 L1909.9,1274.0 L1912.9,1274.1 L1915.9,1274.1 L1918.9,1274.1 L1921.9,1274.2 L1924.9,1274.2 L1927.9,1274.3 L1930.9,1274.3 L1933.9,1274.4 L1936.9,1274.4 L1939.9,1274.5 L1942.9,1274.5 L1945.9,1274.6 L1948.9,1274.6 L1952.0,1274.7 L1955.0,1274.7 L1958.0,1274.8 L1961.0,1274.8 L1964.0,1274.9 L1967.0,1274.9 L1970.0,1275.0 L1973.0,1275.0 L1976.0,1275.0 L1979.0,1275.1 L1982.0,1275.1 L1985.0,1275.2 L1988.0,1275.2 L1991.0,1275.3 L1994.0,1275.3 L1997.0,1275.4 L2000.0,1275.4 L2003.0,1275.5 L2006.0,1275.5 L2009.0,1275.6 L2012.0,1275.6"/>
<path stroke="#FF1E98" stroke-width="9.5" d="M441.0,67.0 L444.0,67.0 L447.0,67.1 L450.0,67.1 L453.0,67.1 L456.0,67.1 L459.0,67.0 L462.0,67.0 L465.0,67.0 L468.0,67.0 L471.0,67.0 L474.0,67.0 L477.0,67.0 L480.0,67.0 L483.0,67.0 L486.0,67.1 L489.0,67.1 L492.0,67.2 L495.0,67.3 L498.0,67.4 L501.0,67.6 L504.0,67.7 L507.0,67.9 L510.0,68.2 L513.0,68.4 L516.0,68.8 L518.9,69.1 L521.9,69.5 L524.9,69.9 L527.8,70.4 L530.8,70.9 L533.7,71.5 L536.7,72.1 L539.6,72.7 L542.5,73.4 L545.5,74.1 L548.4,74.8 L551.3,75.6 L554.2,76.4 L557.1,77.1 L560.0,77.9 L562.9,78.7 L565.8,79.5 L568.7,80.2 L571.6,81.0 L574.5,81.7 L577.4,82.4 L580.3,83.1 L583.2,83.7 L586.2,84.4 L589.1,85.1 L592.0,85.7 L595.0,86.4 L597.9,87.0 L600.8,87.7 L603.7,88.4 L606.6,89.1 L609.5,89.9 L612.4,90.7 L615.3,91.5 L618.2,92.3 L621.1,93.3 L623.9,94.2 L626.7,95.2 L629.6,96.2 L632.4,97.2 L635.2,98.3 L638.0,99.3 L640.8,100.4 L643.6,101.4 L646.4,102.5 L649.3,103.5 L652.1,104.5 L654.9,105.4 L657.8,106.4 L660.7,107.2 L663.6,108.0 L666.5,108.8 L669.4,109.5 L672.3,110.2 L675.2,110.9 L678.1,111.5 L681.1,112.1 L684.0,112.8 L687.0,113.4 L689.9,114.0 L692.8,114.6 L695.8,115.3 L698.7,115.9 L701.6,116.6 L704.5,117.4 L707.4,118.2 L710.3,119.0 L713.2,119.8 L716.0,120.7 L718.9,121.7 L721.7,122.6 L724.6,123.6 L727.4,124.5 L730.2,125.5 L733.1,126.5 L735.9,127.5 L738.7,128.5 L741.6,129.5 L744.4,130.5 L747.2,131.4 L750.1,132.4 L752.9,133.3 L755.8,134.2 L758.7,135.2 L761.5,136.1 L764.4,137.0 L767.2,137.9 L770.1,138.9 L772.9,139.8 L775.8,140.8 L778.6,141.8 L781.4,142.9 L784.2,143.9 L787.0,145.1 L789.7,146.2 L792.5,147.4 L795.2,148.7 L797.9,150.0 L800.6,151.3 L803.3,152.7 L805.9,154.1 L808.6,155.5 L811.2,157.0 L813.8,158.4 L816.4,159.9 L819.0,161.4 L821.6,162.9 L824.2,164.4 L826.8,165.9 L829.4,167.4 L832.1,168.9 L834.7,170.3 L837.3,171.8 L839.9,173.3 L842.5,174.7 L845.2,176.2 L847.8,177.6 L850.4,179.0 L853.1,180.5 L855.7,181.9 L858.3,183.3 L861.0,184.8 L863.6,186.2 L866.2,187.7 L868.9,189.1 L871.5,190.5 L874.1,192.0 L876.7,193.4 L879.4,194.9 L882.0,196.4 L884.6,197.8 L887.2,199.3 L889.8,200.8 L892.4,202.3 L895.0,203.8 L897.6,205.3 L900.2,206.8 L902.8,208.4 L905.3,210.0 L907.9,211.5 L910.4,213.1 L912.9,214.7 L915.5,216.4 L918.0,218.0 L920.4,219.7 L922.9,221.4 L925.4,223.2 L927.8,224.9 L930.2,226.8 L932.5,228.6 L934.9,230.5 L937.2,232.4 L939.4,234.4 L941.7,236.4 L943.8,238.4 L946.0,240.5 L948.1,242.7 L950.1,244.9 L952.1,247.1 L954.1,249.4 L956.0,251.7 L957.9,254.1 L959.7,256.4 L961.5,258.9 L963.2,261.3 L964.9,263.8 L966.5,266.3 L968.1,268.9 L969.6,271.5 L971.1,274.1 L972.5,276.7 L973.9,279.4 L975.2,282.1 L976.5,284.8 L977.8,287.5 L979.0,290.2 L980.2,293.0 L981.4,295.7 L982.5,298.5 L983.6,301.3 L984.7,304.1 L985.8,306.9 L986.9,309.7 L988.0,312.5 L989.1,315.3 L990.2,318.1 L991.3,320.9 L992.4,323.7 L993.5,326.4 L994.6,329.2 L995.7,332.0 L996.8,334.8 L997.9,337.6 L999.0,340.4 L1000.1,343.2 L1001.1,346.0 L1002.2,348.8 L1003.3,351.6 L1004.4,354.4 L1005.4,357.2 L1006.5,360.0 L1007.6,362.8 L1008.6,365.6 L1009.6,368.5 L1010.7,371.3 L1011.7,374.1 L1012.7,376.9 L1013.7,379.7 L1014.8,382.6 L1015.8,385.4 L1016.8,388.2 L1017.8,391.0 L1018.8,393.8 L1019.9,396.7 L1020.9,399.5 L1021.9,402.3 L1023.0,405.1 L1024.0,407.9 L1025.0,410.7 L1026.1,413.6 L1027.1,416.4 L1028.1,419.2 L1029.1,422.0 L1030.1,424.9 L1031.1,427.7 L1032.1,430.5 L1033.1,433.3 L1034.1,436.2 L1035.1,439.0 L1036.0,441.9 L1037.0,444.7 L1037.9,447.6 L1038.8,450.4 L1039.7,453.3 L1040.6,456.2 L1041.4,459.0 L1042.2,461.9 L1043.1,464.8 L1043.9,467.7 L1044.6,470.6 L1045.4,473.5 L1046.1,476.4 L1046.8,479.3 L1047.5,482.3 L1048.2,485.2 L1048.9,488.1 L1049.5,491.0 L1050.1,494.0 L1050.7,496.9 L1051.2,499.9 L1051.8,502.8 L1052.3,505.8 L1052.8,508.7 L1053.3,511.7 L1053.8,514.7 L1054.2,517.6 L1054.7,520.6 L1055.1,523.6 L1055.6,526.5 L1056.0,529.5 L1056.4,532.5 L1056.8,535.4 L1057.3,538.4 L1057.7,541.4 L1058.1,544.4 L1058.4,547.3 L1058.8,550.3 L1059.2,553.3 L1059.6,556.3 L1060.0,559.2 L1060.4,562.2 L1060.8,565.2 L1061.2,568.2 L1061.6,571.1 L1062.0,574.1 L1062.3,577.1 L1062.7,580.1 L1063.2,583.0 L1063.6,586.0 L1064.0,589.0 L1064.4,591.9 L1064.8,594.9 L1065.2,597.9 L1065.6,600.9 L1066.0,603.8 L1066.5,606.8 L1066.9,609.8 L1067.3,612.7 L1067.7,615.7 L1068.1,618.7 L1068.5,621.7 L1068.9,624.6 L1069.4,627.6 L1069.8,630.6 L1070.2,633.5 L1070.6,636.5 L1071.0,639.5 L1071.4,642.5 L1071.9,645.4 L1072.3,648.4 L1072.7,651.4 L1073.1,654.3 L1073.6,657.3 L1074.0,660.3 L1074.4,663.3 L1074.9,666.2 L1075.3,669.2 L1075.7,672.2 L1076.2,675.1 L1076.6,678.1 L1077.1,681.1 L1077.6,684.0 L1078.0,687.0 L1078.5,690.0 L1078.9,692.9 L1079.4,695.9 L1079.8,698.9 L1080.3,701.8 L1080.7,704.8 L1081.2,707.7 L1081.6,710.7 L1082.1,713.7 L1082.5,716.6 L1083.0,719.6 L1083.4,722.6 L1083.9,725.6 L1084.3,728.5 L1084.7,731.5 L1085.2,734.5 L1085.6,737.4 L1086.1,740.4 L1086.5,743.4 L1086.9,746.3 L1087.4,749.3 L1087.8,752.3 L1088.3,755.2 L1088.7,758.2 L1089.2,761.2 L1089.6,764.1 L1090.0,767.1 L1090.5,770.1 L1090.9,773.0 L1091.3,776.0 L1091.7,779.0 L1092.1,782.0 L1092.5,784.9 L1092.9,787.9 L1093.3,790.9 L1093.7,793.9 L1094.0,796.8 L1094.4,799.8 L1094.7,802.8 L1095.0,805.8 L1095.3,808.8 L1095.6,811.8 L1095.8,814.8 L1096.1,817.7 L1096.4,820.7 L1096.6,823.7 L1096.8,826.7 L1097.1,829.7 L1097.3,832.7 L1097.5,835.7 L1097.7,838.7 L1097.9,841.7 L1098.1,844.7 L1098.3,847.7 L1098.5,850.7 L1098.7,853.7 L1098.9,856.6 L1099.1,859.6 L1099.4,862.6 L1099.6,865.6 L1099.8,868.6 L1100.0,871.6 L1100.2,874.6 L1100.5,877.6 L1100.7,880.6 L1100.9,883.6 L1101.2,886.6 L1101.5,889.6 L1101.8,892.5 L1102.1,895.5 L1102.4,898.5 L1102.7,901.5 L1103.0,904.5 L1103.3,907.5 L1103.7,910.4 L1104.0,913.4 L1104.4,916.4 L1104.7,919.4 L1105.1,922.4 L1105.4,925.3 L1105.8,928.3 L1106.2,931.3 L1106.5,934.3 L1106.9,937.3 L1107.3,940.2 L1107.6,943.2 L1108.0,946.2 L1108.4,949.2 L1108.8,952.1 L1109.2,955.1 L1109.5,958.1 L1109.9,961.1 L1110.3,964.0 L1110.7,967.0 L1111.1,970.0 L1111.5,973.0 L1111.9,975.9 L1112.3,978.9 L1112.7,981.9 L1113.1,984.9 L1113.5,987.8 L1113.9,990.8 L1114.3,993.8 L1114.8,996.7 L1115.2,999.7 L1115.6,1002.7 L1116.0,1005.7 L1116.4,1008.6 L1116.8,1011.6 L1117.2,1014.6 L1117.6,1017.6 L1118.0,1020.5 L1118.4,1023.5 L1118.8,1026.5 L1119.2,1029.5 L1119.6,1032.4 L1120.0,1035.4 L1120.4,1038.4 L1120.8,1041.4 L1121.1,1044.3 L1121.5,1047.3 L1121.9,1050.3 L1122.3,1053.2 L1122.8,1056.2 L1123.2,1059.2 L1123.6,1062.2 L1124.0,1065.1 L1124.5,1068.1 L1124.9,1071.1 L1125.4,1074.0 L1125.8,1077.0 L1126.3,1080.0 L1126.8,1082.9 L1127.3,1085.9 L1127.8,1088.8 L1128.3,1091.8 L1128.8,1094.8 L1129.3,1097.7 L1129.8,1100.7 L1130.3,1103.6 L1130.8,1106.6 L1131.3,1109.5 L1131.9,1112.5 L1132.4,1115.4 L1132.9,1118.4 L1133.5,1121.3 L1134.1,1124.3 L1134.7,1127.2 L1135.3,1130.2 L1136.0,1133.1 L1136.7,1136.0 L1137.5,1138.9 L1138.3,1141.8 L1139.1,1144.7 L1140.1,1147.5 L1141.0,1150.4 L1142.1,1153.2 L1143.2,1156.0 L1144.3,1158.7 L1145.6,1161.5 L1146.9,1164.2 L1148.3,1166.8 L1149.8,1169.4 L1151.4,1172.0 L1153.0,1174.5 L1154.7,1176.9 L1156.6,1179.3 L1158.5,1181.6 L1160.5,1183.8 L1162.6,1186.0 L1164.8,1188.0 L1167.1,1189.9 L1169.5,1191.7 L1172.0,1193.5 L1174.5,1195.1 L1177.1,1196.6 L1179.8,1198.0 L1182.4,1199.3 L1185.2,1200.6 L1187.9,1201.8 L1190.7,1202.9 L1193.5,1204.0 L1196.3,1205.0 L1199.1,1206.1 L1202.0,1207.0 L1204.8,1208.0 L1207.7,1208.9 L1210.5,1209.9 L1213.4,1210.8 L1216.2,1211.7 L1219.1,1212.6 L1221.9,1213.5 L1224.8,1214.4 L1227.7,1215.3 L1230.5,1216.2 L1233.4,1217.0 L1236.3,1217.9 L1239.2,1218.7 L1242.1,1219.6 L1244.9,1220.4 L1247.8,1221.2 L1250.7,1222.0 L1253.6,1222.8 L1256.5,1223.6 L1259.4,1224.4 L1262.3,1225.2 L1265.2,1226.0 L1268.1,1226.7 L1271.0,1227.5 L1273.9,1228.2 L1276.8,1228.9 L1279.7,1229.6 L1282.7,1230.3 L1285.6,1231.0 L1288.5,1231.7 L1291.4,1232.3 L1294.4,1233.0 L1297.3,1233.6 L1300.2,1234.2 L1303.2,1234.8 L1306.1,1235.4 L1309.1,1235.9 L1312.0,1236.5 L1315.0,1237.0 L1317.9,1237.5 L1320.9,1238.1 L1323.8,1238.6 L1326.8,1239.1 L1329.8,1239.5 L1332.7,1240.0 L1335.7,1240.5 L1338.7,1240.9 L1341.6,1241.4 L1344.6,1241.8 L1347.6,1242.2 L1350.5,1242.7 L1353.5,1243.1 L1356.5,1243.5 L1359.5,1243.9 L1362.4,1244.3 L1365.4,1244.7 L1368.4,1245.1 L1371.3,1245.5 L1374.3,1245.9 L1377.3,1246.3 L1380.3,1246.7 L1383.2,1247.1 L1386.2,1247.5 L1389.2,1247.9 L1392.2,1248.3 L1395.1,1248.7 L1398.1,1249.1 L1401.1,1249.5 L1404.1,1249.9 L1407.0,1250.3 L1410.0,1250.7 L1413.0,1251.1 L1416.0,1251.5 L1418.9,1251.8 L1421.9,1252.2 L1424.9,1252.6 L1427.9,1253.0 L1430.8,1253.3 L1433.8,1253.7 L1436.8,1254.1 L1439.8,1254.4 L1442.8,1254.8 L1445.7,1255.1 L1448.7,1255.4 L1451.7,1255.7 L1454.7,1256.1 L1457.7,1256.4 L1460.7,1256.7 L1463.6,1257.0 L1466.6,1257.2 L1469.6,1257.5 L1472.6,1257.8 L1475.6,1258.0 L1478.6,1258.3 L1481.6,1258.5 L1484.6,1258.7 L1487.6,1259.0 L1490.6,1259.2 L1493.6,1259.4 L1496.5,1259.6 L1499.5,1259.8 L1502.5,1260.0 L1505.5,1260.2 L1508.5,1260.5 L1511.5,1260.7 L1514.5,1260.9 L1517.5,1261.1 L1520.5,1261.3 L1523.5,1261.6 L1526.5,1261.8 L1529.5,1262.0 L1532.5,1262.3 L1535.4,1262.5 L1538.4,1262.8 L1541.4,1263.0 L1544.4,1263.3 L1547.4,1263.6 L1550.4,1263.8 L1553.4,1264.1 L1556.4,1264.4 L1559.4,1264.6 L1562.3,1264.9 L1565.3,1265.2 L1568.3,1265.4 L1571.3,1265.7 L1574.3,1266.0 L1577.3,1266.3 L1580.3,1266.5 L1583.3,1266.8 L1586.3,1267.1 L1589.2,1267.3 L1592.2,1267.6 L1595.2,1267.8 L1598.2,1268.1 L1601.2,1268.3 L1604.2,1268.5 L1607.2,1268.8 L1610.2,1269.0 L1613.2,1269.2 L1616.2,1269.4 L1619.2,1269.6 L1622.2,1269.8 L1625.1,1270.0 L1628.1,1270.1 L1631.1,1270.3 L1634.1,1270.5 L1637.1,1270.6 L1640.1,1270.8 L1643.1,1270.9 L1646.1,1271.1 L1649.1,1271.2 L1652.1,1271.4 L1655.1,1271.5 L1658.1,1271.6 L1661.1,1271.8 L1664.1,1271.9 L1667.1,1272.1 L1670.1,1272.2 L1673.1,1272.3 L1676.1,1272.5 L1679.1,1272.6 L1682.1,1272.7 L1685.1,1272.9 L1688.1,1273.0 L1691.1,1273.2 L1694.1,1273.3 L1697.1,1273.5 L1700.1,1273.6 L1703.1,1273.8 L1706.1,1274.0 L1709.1,1274.1 L1712.1,1274.3 L1715.1,1274.5 L1718.0,1274.6 L1721.0,1274.8 L1724.0,1275.0 L1727.0,1275.1 L1730.0,1275.3 L1733.0,1275.4 L1736.0,1275.6 L1739.0,1275.7 L1742.0,1275.9 L1745.0,1276.0 L1748.0,1276.1 L1751.0,1276.2 L1754.0,1276.3 L1757.0,1276.4 L1760.0,1276.5 L1763.0,1276.6 L1766.0,1276.7 L1769.0,1276.8 L1772.0,1276.9 L1775.0,1277.0 L1778.0,1277.1 L1781.0,1277.2 L1784.0,1277.2 L1787.0,1277.3 L1790.0,1277.4 L1793.0,1277.5 L1796.0,1277.6 L1799.0,1277.7 L1802.0,1277.7 L1805.0,1277.8 L1808.0,1277.9 L1811.0,1278.0 L1814.0,1278.1 L1817.0,1278.2 L1820.0,1278.3 L1823.0,1278.4 L1826.0,1278.4 L1829.0,1278.5 L1832.0,1278.6 L1835.0,1278.7 L1838.0,1278.8 L1841.0,1278.9 L1844.0,1279.0 L1847.0,1279.1 L1850.0,1279.2 L1853.0,1279.3 L1856.0,1279.4 L1859.0,1279.5 L1862.0,1279.6 L1865.0,1279.7 L1868.0,1279.8 L1871.0,1279.9 L1874.0,1279.9 L1877.0,1280.0 L1880.0,1280.0 L1883.0,1280.1 L1886.0,1280.1 L1889.0,1280.2 L1892.0,1280.2 L1895.0,1280.2 L1898.0,1280.2 L1901.0,1280.3 L1904.0,1280.3 L1907.0,1280.3 L1910.0,1280.3 L1913.0,1280.3 L1916.0,1280.3 L1919.0,1280.4 L1922.0,1280.4 L1925.0,1280.4 L1928.0,1280.4 L1931.0,1280.5 L1934.0,1280.5 L1937.0,1280.5 L1940.0,1280.5 L1943.0,1280.6 L1946.0,1280.6 L1949.0,1280.6 L1952.0,1280.7 L1955.0,1280.7 L1958.0,1280.7 L1961.0,1280.8 L1964.0,1280.8 L1967.0,1280.8 L1970.0,1280.8 L1973.0,1280.9 L1976.0,1280.9 L1979.0,1280.9 L1982.0,1280.9 L1985.0,1281.0 L1988.0,1281.0 L1991.0,1281.0 L1994.0,1281.0 L1997.0,1281.1 L2000.0,1281.1 L2003.0,1281.1 L2006.0,1281.1 L2009.0,1281.2 L2012.0,1281.2"/>
<path stroke="#781AA0" stroke-width="10.0" d="M441.0,67.0 L444.0,67.1 L447.0,67.2 L450.0,67.2 L453.0,67.3 L456.0,67.3 L459.0,67.4 L462.0,67.4 L465.0,67.5 L468.0,67.5 L471.0,67.6 L474.0,67.7 L477.0,67.8 L480.0,67.9 L483.0,68.1 L486.0,68.3 L489.0,68.5 L492.0,68.7 L495.0,69.0 L498.0,69.4 L500.9,69.8 L503.9,70.2 L506.9,70.7 L509.8,71.2 L512.8,71.7 L515.7,72.2 L518.7,72.8 L521.6,73.4 L524.6,74.0 L527.5,74.7 L530.4,75.3 L533.3,76.0 L536.3,76.7 L539.2,77.4 L542.1,78.1 L545.0,78.9 L547.9,79.6 L550.8,80.3 L553.7,81.1 L556.6,81.9 L559.5,82.7 L562.4,83.5 L565.3,84.3 L568.2,85.1 L571.1,85.9 L574.0,86.8 L576.8,87.6 L579.7,88.5 L582.6,89.4 L585.4,90.3 L588.3,91.3 L591.1,92.2 L594.0,93.2 L596.8,94.2 L599.6,95.2 L602.5,96.2 L605.3,97.2 L608.1,98.2 L610.9,99.3 L613.8,100.3 L616.6,101.3 L619.4,102.3 L622.2,103.3 L625.1,104.3 L627.9,105.3 L630.8,106.2 L633.6,107.2 L636.5,108.1 L639.3,109.0 L642.2,109.8 L645.1,110.7 L648.0,111.5 L650.9,112.3 L653.8,113.0 L656.7,113.8 L659.6,114.5 L662.5,115.3 L665.4,116.0 L668.3,116.7 L671.3,117.4 L674.2,118.1 L677.1,118.8 L680.0,119.4 L682.9,120.1 L685.9,120.8 L688.8,121.5 L691.7,122.2 L694.6,122.9 L697.5,123.6 L700.5,124.3 L703.4,125.0 L706.3,125.8 L709.2,126.5 L712.1,127.2 L715.0,128.0 L717.9,128.7 L720.8,129.5 L723.7,130.2 L726.6,131.0 L729.5,131.8 L732.4,132.5 L735.3,133.3 L738.2,134.1 L741.1,134.9 L744.0,135.7 L746.9,136.6 L749.8,137.4 L752.7,138.3 L755.5,139.1 L758.4,140.0 L761.3,140.9 L764.1,141.9 L766.9,142.9 L769.8,143.8 L772.6,144.9 L775.4,145.9 L778.2,147.0 L781.0,148.1 L783.8,149.3 L786.5,150.5 L789.3,151.7 L792.0,153.0 L794.7,154.3 L797.4,155.6 L800.0,157.0 L802.7,158.4 L805.3,159.9 L807.9,161.3 L810.5,162.9 L813.1,164.4 L815.6,166.0 L818.2,167.6 L820.7,169.3 L823.2,171.0 L825.6,172.7 L828.1,174.4 L830.5,176.2 L832.9,178.0 L835.2,179.9 L837.6,181.7 L839.9,183.6 L842.2,185.6 L844.5,187.5 L846.7,189.5 L849.0,191.5 L851.2,193.5 L853.4,195.6 L855.6,197.6 L857.7,199.7 L859.8,201.8 L861.9,204.0 L864.0,206.1 L866.1,208.3 L868.2,210.5 L870.2,212.7 L872.2,214.9 L874.2,217.2 L876.2,219.4 L878.2,221.7 L880.1,223.9 L882.1,226.2 L884.0,228.5 L885.9,230.9 L887.8,233.2 L889.7,235.5 L891.5,237.9 L893.4,240.3 L895.2,242.6 L897.0,245.0 L898.9,247.4 L900.7,249.8 L902.4,252.2 L904.2,254.6 L906.0,257.1 L907.7,259.5 L909.5,261.9 L911.3,264.4 L913.0,266.8 L914.7,269.3 L916.5,271.7 L918.2,274.1 L920.0,276.6 L921.7,279.0 L923.5,281.5 L925.2,283.9 L927.0,286.3 L928.8,288.7 L930.6,291.2 L932.3,293.6 L934.1,296.0 L935.9,298.4 L937.7,300.8 L939.5,303.2 L941.3,305.6 L943.0,308.1 L944.8,310.5 L946.5,313.0 L948.2,315.4 L949.9,317.9 L951.6,320.4 L953.3,322.9 L954.9,325.4 L956.5,327.9 L958.1,330.5 L959.6,333.1 L961.1,335.7 L962.6,338.3 L964.0,340.9 L965.5,343.6 L966.9,346.2 L968.3,348.9 L969.6,351.5 L971.0,354.2 L972.4,356.9 L973.7,359.6 L975.0,362.3 L976.4,364.9 L977.7,367.6 L979.1,370.3 L980.5,373.0 L981.8,375.7 L983.2,378.3 L984.6,381.0 L986.0,383.6 L987.4,386.3 L988.8,388.9 L990.2,391.6 L991.7,394.2 L993.1,396.9 L994.5,399.5 L995.9,402.2 L997.3,404.8 L998.7,407.5 L1000.1,410.1 L1001.5,412.8 L1002.8,415.5 L1004.2,418.1 L1005.5,420.8 L1006.9,423.5 L1008.2,426.2 L1009.5,428.9 L1010.8,431.6 L1012.1,434.4 L1013.3,437.1 L1014.6,439.8 L1015.9,442.5 L1017.1,445.3 L1018.4,448.0 L1019.6,450.7 L1020.8,453.5 L1022.1,456.2 L1023.3,458.9 L1024.5,461.7 L1025.8,464.4 L1027.0,467.1 L1028.2,469.9 L1029.4,472.6 L1030.7,475.4 L1031.9,478.1 L1033.1,480.9 L1034.3,483.6 L1035.4,486.4 L1036.6,489.2 L1037.7,491.9 L1038.8,494.7 L1039.9,497.5 L1041.0,500.3 L1042.1,503.1 L1043.2,505.9 L1044.0,508.8 L1044.8,511.7 L1045.5,514.6 L1046.2,517.5 L1046.9,520.4 L1047.6,523.4 L1048.2,526.3 L1048.9,529.2 L1049.5,532.2 L1050.1,535.1 L1050.7,538.0 L1051.3,541.0 L1051.9,543.9 L1052.5,546.9 L1053.0,549.8 L1053.6,552.8 L1054.1,555.7 L1054.7,558.7 L1055.2,561.6 L1055.7,564.6 L1056.2,567.6 L1056.7,570.5 L1057.2,573.5 L1057.7,576.4 L1058.1,579.4 L1058.6,582.4 L1059.0,585.3 L1059.5,588.3 L1059.9,591.3 L1060.3,594.3 L1060.7,597.2 L1061.1,600.2 L1061.5,603.2 L1061.9,606.2 L1062.3,609.1 L1062.6,612.1 L1063.0,615.1 L1063.3,618.1 L1063.6,621.1 L1063.9,624.1 L1064.3,627.0 L1064.6,630.0 L1064.9,633.0 L1065.2,636.0 L1065.4,639.0 L1065.7,642.0 L1066.0,645.0 L1066.3,648.0 L1066.6,650.9 L1066.9,653.9 L1067.2,656.9 L1067.4,659.9 L1067.7,662.9 L1068.0,665.9 L1068.3,668.9 L1068.7,671.9 L1069.0,674.8 L1069.3,677.8 L1069.6,680.8 L1069.9,683.8 L1070.2,686.8 L1070.6,689.8 L1070.9,692.7 L1071.2,695.7 L1071.6,698.7 L1071.9,701.7 L1072.2,704.7 L1072.6,707.7 L1072.9,710.6 L1073.3,713.6 L1073.6,716.6 L1073.9,719.6 L1074.3,722.6 L1074.6,725.6 L1075.0,728.5 L1075.3,731.5 L1075.7,734.5 L1076.0,737.5 L1076.4,740.5 L1076.7,743.4 L1077.1,746.4 L1077.4,749.4 L1077.8,752.4 L1078.1,755.4 L1078.5,758.3 L1078.8,761.3 L1079.2,764.3 L1079.5,767.3 L1079.9,770.3 L1080.2,773.3 L1080.6,776.2 L1080.9,779.2 L1081.3,782.2 L1081.6,785.2 L1082.0,788.2 L1082.3,791.1 L1082.6,794.1 L1083.0,797.1 L1083.3,800.1 L1083.6,803.1 L1083.9,806.1 L1084.2,809.0 L1084.5,812.0 L1084.8,815.0 L1085.1,818.0 L1085.4,821.0 L1085.7,824.0 L1086.0,827.0 L1086.2,830.0 L1086.5,833.0 L1086.8,835.9 L1087.0,838.9 L1087.3,841.9 L1087.6,844.9 L1087.8,847.9 L1088.1,850.9 L1088.3,853.9 L1088.6,856.9 L1088.8,859.9 L1089.1,862.9 L1089.4,865.9 L1089.7,868.8 L1089.9,871.8 L1090.2,874.8 L1090.5,877.8 L1090.8,880.8 L1091.0,883.8 L1091.3,886.8 L1091.6,889.8 L1091.9,892.7 L1092.2,895.7 L1092.5,898.7 L1092.8,901.7 L1093.1,904.7 L1093.4,907.7 L1093.7,910.7 L1094.0,913.7 L1094.3,916.6 L1094.6,919.6 L1094.9,922.6 L1095.2,925.6 L1095.5,928.6 L1095.8,931.6 L1096.2,934.6 L1096.5,937.5 L1096.8,940.5 L1097.1,943.5 L1097.4,946.5 L1097.7,949.5 L1098.0,952.5 L1098.3,955.5 L1098.6,958.4 L1099.0,961.4 L1099.3,964.4 L1099.6,967.4 L1099.9,970.4 L1100.2,973.4 L1100.5,976.4 L1100.8,979.3 L1101.1,982.3 L1101.4,985.3 L1101.8,988.3 L1102.1,991.3 L1102.4,994.3 L1102.8,997.3 L1103.1,1000.2 L1103.4,1003.2 L1103.8,1006.2 L1104.2,1009.2 L1104.5,1012.2 L1104.9,1015.1 L1105.3,1018.1 L1105.7,1021.1 L1106.1,1024.1 L1106.5,1027.0 L1107.0,1030.0 L1107.4,1033.0 L1107.8,1035.9 L1108.3,1038.9 L1108.8,1041.9 L1109.2,1044.8 L1109.7,1047.8 L1110.2,1050.8 L1110.7,1053.7 L1111.2,1056.7 L1111.7,1059.6 L1112.2,1062.6 L1112.7,1065.6 L1113.2,1068.5 L1113.7,1071.5 L1114.3,1074.4 L1114.8,1077.4 L1115.3,1080.3 L1115.9,1083.3 L1116.4,1086.2 L1117.0,1089.2 L1117.5,1092.1 L1118.1,1095.1 L1118.7,1098.0 L1119.3,1101.0 L1119.8,1103.9 L1120.4,1106.9 L1121.0,1109.8 L1121.6,1112.8 L1122.2,1115.7 L1122.8,1118.6 L1123.4,1121.6 L1124.1,1124.5 L1124.7,1127.4 L1125.4,1130.4 L1126.1,1133.3 L1126.8,1136.2 L1127.5,1139.1 L1128.3,1142.0 L1129.1,1144.9 L1129.9,1147.8 L1130.7,1150.7 L1131.6,1153.5 L1132.6,1156.4 L1133.6,1159.2 L1134.6,1162.0 L1135.7,1164.8 L1136.8,1167.6 L1138.0,1170.4 L1139.2,1173.1 L1140.5,1175.8 L1141.9,1178.5 L1143.3,1181.1 L1144.8,1183.7 L1146.4,1186.3 L1148.0,1188.8 L1149.7,1191.3 L1151.5,1193.7 L1153.4,1196.0 L1155.4,1198.3 L1157.4,1200.5 L1159.6,1202.6 L1161.8,1204.6 L1164.1,1206.5 L1166.5,1208.3 L1169.0,1210.1 L1171.5,1211.7 L1174.0,1213.3 L1176.7,1214.7 L1179.3,1216.1 L1182.0,1217.5 L1184.7,1218.8 L1187.4,1220.0 L1190.2,1221.2 L1193.0,1222.3 L1195.8,1223.4 L1198.6,1224.4 L1201.4,1225.5 L1204.2,1226.5 L1207.1,1227.5 L1209.9,1228.4 L1212.8,1229.4 L1215.6,1230.4 L1218.5,1231.3 L1221.3,1232.2 L1224.2,1233.1 L1227.0,1234.0 L1229.9,1234.9 L1232.8,1235.7 L1235.7,1236.6 L1238.6,1237.4 L1241.5,1238.2 L1244.3,1239.0 L1247.2,1239.8 L1250.2,1240.5 L1253.1,1241.3 L1256.0,1242.0 L1258.9,1242.7 L1261.8,1243.4 L1264.7,1244.1 L1267.7,1244.7 L1270.6,1245.3 L1273.5,1246.0 L1276.5,1246.6 L1279.4,1247.2 L1282.4,1247.8 L1285.3,1248.4 L1288.2,1249.0 L1291.2,1249.6 L1294.1,1250.1 L1297.1,1250.7 L1300.0,1251.3 L1303.0,1251.8 L1305.9,1252.4 L1308.9,1253.0 L1311.8,1253.5 L1314.8,1254.1 L1317.7,1254.7 L1320.7,1255.2 L1323.6,1255.8 L1326.6,1256.3 L1329.5,1256.9 L1332.5,1257.4 L1335.4,1258.0 L1338.4,1258.5 L1341.3,1259.0 L1344.3,1259.5 L1347.3,1260.0 L1350.2,1260.5 L1353.2,1260.9 L1356.2,1261.4 L1359.1,1261.8 L1362.1,1262.3 L1365.1,1262.7 L1368.0,1263.1 L1371.0,1263.5 L1374.0,1263.9 L1377.0,1264.3 L1379.9,1264.7 L1382.9,1265.1 L1385.9,1265.4 L1388.9,1265.8 L1391.9,1266.2 L1394.8,1266.6 L1397.8,1267.0 L1400.8,1267.3 L1403.8,1267.7 L1406.7,1268.1 L1409.7,1268.5 L1412.7,1268.9 L1415.7,1269.3 L1418.6,1269.7 L1421.6,1270.1 L1424.6,1270.5 L1427.6,1270.9 L1430.5,1271.3 L1433.5,1271.7 L1436.5,1272.1 L1439.5,1272.4 L1442.5,1272.8 L1445.4,1273.2 L1448.4,1273.5 L1451.4,1273.8 L1454.4,1274.1 L1457.4,1274.4 L1460.4,1274.7 L1463.4,1275.0 L1466.3,1275.2 L1469.3,1275.4 L1472.3,1275.7 L1475.3,1275.9 L1478.3,1276.1 L1481.3,1276.3 L1484.3,1276.5 L1487.3,1276.7 L1490.3,1276.9 L1493.3,1277.0 L1496.3,1277.2 L1499.3,1277.4 L1502.3,1277.6 L1505.3,1277.8 L1508.3,1278.0 L1511.3,1278.2 L1514.3,1278.4 L1517.3,1278.6 L1520.3,1278.8 L1523.3,1279.1 L1526.2,1279.3 L1529.2,1279.5 L1532.2,1279.8 L1535.2,1280.0 L1538.2,1280.2 L1541.2,1280.5 L1544.2,1280.7 L1547.2,1281.0 L1550.2,1281.2 L1553.2,1281.4 L1556.2,1281.7 L1559.2,1281.9 L1562.2,1282.2 L1565.1,1282.4 L1568.1,1282.7 L1571.1,1282.9 L1574.1,1283.1 L1577.1,1283.4 L1580.1,1283.6 L1583.1,1283.8 L1586.1,1284.1 L1589.1,1284.3 L1592.1,1284.5 L1595.1,1284.7 L1598.1,1285.0 L1601.1,1285.2 L1604.1,1285.4 L1607.0,1285.6 L1610.0,1285.8 L1613.0,1286.0 L1616.0,1286.2 L1619.0,1286.4 L1622.0,1286.6 L1625.0,1286.8 L1628.0,1287.0 L1631.0,1287.1 L1634.0,1287.3 L1637.0,1287.5 L1640.0,1287.7 L1643.0,1287.9 L1646.0,1288.0 L1649.0,1288.2 L1652.0,1288.4 L1655.0,1288.5 L1658.0,1288.7 L1661.0,1288.9 L1664.0,1289.0 L1667.0,1289.2 L1670.0,1289.4 L1673.0,1289.5 L1676.0,1289.7 L1679.0,1289.9 L1682.0,1290.1 L1685.0,1290.2 L1688.0,1290.4 L1691.0,1290.6 L1693.9,1290.7 L1696.9,1290.9 L1699.9,1291.1 L1702.9,1291.3 L1705.9,1291.4 L1708.9,1291.6 L1711.9,1291.8 L1714.9,1292.0 L1717.9,1292.2 L1720.9,1292.4 L1723.9,1292.5 L1726.9,1292.7 L1729.9,1292.9 L1732.9,1293.1 L1735.9,1293.3 L1738.9,1293.4 L1741.9,1293.6 L1744.9,1293.7 L1747.9,1293.9 L1750.9,1294.0 L1753.9,1294.2 L1756.9,1294.3 L1759.9,1294.4 L1762.9,1294.5 L1765.9,1294.6 L1768.9,1294.6 L1771.9,1294.7 L1774.9,1294.8 L1777.9,1294.8 L1780.9,1294.9 L1783.9,1294.9 L1786.9,1295.0 L1789.9,1295.0 L1792.9,1295.0 L1795.9,1295.1 L1798.9,1295.1 L1801.9,1295.2 L1804.9,1295.2 L1807.9,1295.3 L1810.9,1295.3 L1813.9,1295.4 L1816.9,1295.5 L1819.9,1295.6 L1822.9,1295.6 L1825.9,1295.7 L1828.9,1295.8 L1831.9,1295.9 L1834.9,1296.0 L1837.9,1296.1 L1840.9,1296.2 L1843.9,1296.3 L1846.9,1296.4 L1849.9,1296.4 L1852.9,1296.5 L1855.9,1296.6 L1858.9,1296.7 L1861.9,1296.7 L1864.9,1296.8 L1867.9,1296.9 L1870.9,1296.9 L1873.9,1297.0 L1876.9,1297.0 L1879.9,1297.0 L1882.9,1297.1 L1885.9,1297.1 L1888.9,1297.1 L1891.9,1297.1 L1894.9,1297.2 L1897.9,1297.2 L1900.9,1297.2 L1903.9,1297.2 L1906.9,1297.2 L1909.9,1297.3 L1912.9,1297.3 L1915.9,1297.3 L1918.9,1297.3 L1921.9,1297.3 L1925.0,1297.4 L1928.0,1297.4 L1931.0,1297.4 L1934.0,1297.4 L1937.0,1297.4 L1940.0,1297.5 L1943.0,1297.5 L1946.0,1297.5 L1949.0,1297.5 L1952.0,1297.6 L1955.0,1297.6 L1958.0,1297.6 L1961.0,1297.6 L1964.0,1297.6 L1967.0,1297.7 L1970.0,1297.7 L1973.0,1297.7 L1976.0,1297.7 L1979.0,1297.8 L1982.0,1297.8 L1985.0,1297.8 L1988.0,1297.8 L1991.0,1297.8 L1994.0,1297.9 L1997.0,1297.9 L2000.0,1297.9 L2003.0,1297.9 L2006.0,1298.0 L2009.0,1298.0 L2012.0,1298.0"/>
<path stroke="#00AEEF" stroke-width="12.0" d="M441.0,67.0 L444.0,67.3 L447.0,67.5 L450.0,67.8 L453.0,68.0 L456.0,68.2 L459.0,68.5 L461.9,68.7 L464.9,69.0 L467.9,69.3 L470.9,69.6 L473.9,70.0 L476.9,70.4 L479.8,70.9 L482.8,71.4 L485.7,72.0 L488.6,72.7 L491.5,73.5 L494.4,74.3 L497.3,75.2 L500.2,76.1 L503.0,77.1 L505.8,78.2 L508.6,79.3 L511.4,80.4 L514.1,81.6 L516.9,82.8 L519.6,84.0 L522.3,85.3 L525.0,86.6 L527.7,87.9 L530.4,89.2 L533.1,90.6 L535.8,91.9 L538.5,93.3 L541.2,94.6 L543.8,96.0 L546.5,97.4 L549.2,98.8 L551.8,100.2 L554.5,101.6 L557.1,103.0 L559.8,104.4 L562.4,105.8 L565.1,107.2 L567.7,108.6 L570.4,110.1 L573.0,111.5 L575.7,112.9 L578.3,114.3 L581.0,115.7 L583.6,117.1 L586.3,118.5 L588.9,120.0 L591.5,121.4 L594.2,122.8 L596.8,124.2 L599.5,125.7 L602.1,127.1 L604.7,128.5 L607.4,130.0 L610.0,131.4 L612.6,132.9 L615.2,134.4 L617.8,135.8 L620.5,137.3 L623.1,138.8 L625.7,140.3 L628.3,141.8 L630.9,143.3 L633.5,144.8 L636.1,146.3 L638.7,147.8 L641.2,149.4 L643.8,150.9 L646.4,152.4 L649.0,154.0 L651.6,155.5 L654.1,157.1 L656.7,158.7 L659.2,160.2 L661.8,161.8 L664.3,163.5 L666.8,165.1 L669.3,166.8 L671.8,168.5 L674.2,170.2 L676.6,172.0 L679.0,173.8 L681.4,175.7 L683.7,177.6 L686.0,179.5 L688.2,181.5 L690.5,183.6 L692.6,185.6 L694.8,187.7 L696.9,189.9 L699.0,192.0 L701.0,194.2 L703.0,196.4 L705.0,198.7 L707.0,201.0 L708.9,203.2 L710.9,205.5 L712.8,207.8 L714.7,210.1 L716.6,212.5 L718.5,214.8 L720.4,217.1 L722.3,219.5 L724.1,221.8 L726.0,224.2 L727.8,226.6 L729.6,229.0 L731.3,231.5 L733.0,233.9 L734.7,236.4 L736.4,238.9 L738.0,241.4 L739.6,244.0 L741.1,246.6 L742.6,249.2 L744.0,251.8 L745.4,254.5 L746.9,257.1 L748.3,259.7 L749.9,262.3 L751.6,264.8 L753.4,267.2 L755.3,269.5 L757.4,271.6 L759.8,273.4 L762.4,274.9 L765.2,276.1 L768.0,277.0 L771.0,277.7 L773.9,278.3 L776.9,278.7 L779.8,279.1 L782.8,279.5 L785.8,279.8 L788.8,280.0 L791.8,280.3 L794.8,280.4 L797.8,280.6 L800.8,280.7 L803.8,280.7 L806.8,280.8 L809.8,280.9 L812.8,280.9 L815.8,280.9 L818.8,281.0 L821.8,281.0 L824.8,281.1 L827.8,281.1 L830.8,281.2 L833.8,281.3 L836.8,281.4 L839.8,281.4 L842.8,281.5 L845.8,281.6 L848.8,281.8 L851.8,281.9 L854.8,282.0 L857.8,282.1 L860.8,282.2 L863.8,282.4 L866.8,282.5 L869.8,282.7 L872.8,282.8 L875.8,283.0 L878.8,283.1 L881.8,283.3 L884.8,283.4 L887.8,283.6 L890.8,283.7 L893.8,283.9 L896.8,284.1 L899.8,284.2 L902.8,284.4 L905.8,284.5 L908.8,284.7 L911.8,284.8 L914.8,285.0 L917.8,285.1 L920.8,285.2 L923.8,285.4 L926.8,285.5 L929.8,285.7 L932.8,285.8 L935.8,286.0 L938.8,286.1 L941.8,286.3 L944.8,286.5 L947.8,286.7 L950.8,286.9 L953.8,287.1 L956.7,287.4 L959.7,287.6 L962.7,287.9 L965.7,288.3 L968.7,288.6 L971.7,289.0 L974.6,289.5 L977.6,290.1 L980.5,290.7 L983.4,291.4 L986.3,292.2 L989.2,293.1 L992.0,294.1 L994.8,295.2 L997.5,296.5 L1000.2,297.9 L1002.7,299.5 L1005.2,301.1 L1007.7,302.9 L1010.0,304.8 L1012.2,306.8 L1014.4,308.9 L1016.5,311.0 L1018.5,313.2 L1020.5,315.5 L1022.4,317.8 L1024.2,320.2 L1026.0,322.6 L1027.7,325.1 L1029.4,327.6 L1031.0,330.1 L1032.5,332.7 L1034.1,335.3 L1035.5,337.9 L1037.0,340.5 L1038.3,343.2 L1039.6,345.9 L1040.9,348.6 L1042.1,351.4 L1043.3,354.2 L1044.4,357.0 L1045.4,359.8 L1046.4,362.6 L1047.3,365.5 L1048.2,368.3 L1049.0,371.2 L1049.7,374.1 L1050.4,377.1 L1051.1,380.0 L1051.7,382.9 L1052.2,385.9 L1052.8,388.8 L1053.2,391.8 L1053.7,394.8 L1054.2,397.7 L1054.6,400.7 L1055.0,403.7 L1055.4,406.7 L1055.8,409.6 L1056.2,412.6 L1056.6,415.6 L1057.0,418.6 L1057.4,421.5 L1057.8,424.5 L1058.2,427.5 L1058.6,430.5 L1059.1,433.4 L1059.5,436.4 L1059.9,439.4 L1060.3,442.3 L1060.7,445.3 L1061.1,448.3 L1061.5,451.3 L1061.9,454.2 L1062.2,457.2 L1062.6,460.2 L1062.9,463.2 L1063.3,466.2 L1063.6,469.2 L1063.9,472.2 L1064.2,475.1 L1064.4,478.1 L1064.7,481.1 L1065.0,484.1 L1065.2,487.1 L1065.5,490.1 L1065.7,493.1 L1066.0,496.1 L1066.2,499.1 L1066.5,502.1 L1066.7,505.1 L1066.9,508.0 L1067.2,511.0 L1067.4,514.0 L1067.7,517.0 L1067.9,520.0 L1068.2,523.0 L1068.5,526.0 L1068.7,529.0 L1069.0,532.0 L1069.2,535.0 L1069.5,538.0 L1069.7,541.0 L1070.0,543.9 L1070.2,546.9 L1070.5,549.9 L1070.8,552.9 L1071.0,555.9 L1071.3,558.9 L1071.5,561.9 L1071.8,564.9 L1072.0,567.9 L1072.3,570.9 L1072.5,573.9 L1072.7,576.9 L1073.0,579.8 L1073.2,582.8 L1073.5,585.8 L1073.7,588.8 L1073.9,591.8 L1074.2,594.8 L1074.4,597.8 L1074.7,600.8 L1074.9,603.8 L1075.1,606.8 L1075.3,609.8 L1075.6,612.8 L1075.8,615.8 L1076.0,618.8 L1076.2,621.8 L1076.4,624.8 L1076.6,627.7 L1076.8,630.7 L1077.0,633.7 L1077.2,636.7 L1077.4,639.7 L1077.6,642.7 L1077.8,645.7 L1077.9,648.7 L1078.1,651.7 L1078.3,654.7 L1078.4,657.7 L1078.6,660.7 L1078.7,663.7 L1078.9,666.7 L1079.1,669.7 L1079.2,672.7 L1079.4,675.7 L1079.6,678.7 L1079.7,681.7 L1079.9,684.7 L1080.1,687.7 L1080.3,690.7 L1080.5,693.7 L1080.8,696.7 L1081.0,699.7 L1081.2,702.7 L1081.4,705.7 L1081.7,708.6 L1081.9,711.6 L1082.2,714.6 L1082.4,717.6 L1082.7,720.6 L1082.9,723.6 L1083.1,726.6 L1083.4,729.6 L1083.6,732.6 L1083.9,735.6 L1084.1,738.6 L1084.3,741.6 L1084.6,744.6 L1084.8,747.6 L1085.0,750.5 L1085.3,753.5 L1085.5,756.5 L1085.7,759.5 L1085.9,762.5 L1086.2,765.5 L1086.4,768.5 L1086.6,771.5 L1086.8,774.5 L1087.0,777.5 L1087.3,780.5 L1087.5,783.5 L1087.7,786.5 L1087.9,789.5 L1088.1,792.5 L1088.4,795.5 L1088.6,798.4 L1088.8,801.4 L1089.0,804.4 L1089.3,807.4 L1089.5,810.4 L1089.7,813.4 L1089.9,816.4 L1090.2,819.4 L1090.4,822.4 L1090.6,825.4 L1090.8,828.4 L1091.1,831.4 L1091.3,834.4 L1091.5,837.4 L1091.8,840.4 L1092.0,843.4 L1092.2,846.3 L1092.4,849.3 L1092.7,852.3 L1092.9,855.3 L1093.1,858.3 L1093.4,861.3 L1093.6,864.3 L1093.8,867.3 L1094.0,870.3 L1094.3,873.3 L1094.5,876.3 L1094.7,879.3 L1094.9,882.3 L1095.1,885.3 L1095.4,888.3 L1095.6,891.3 L1095.8,894.2 L1096.1,897.2 L1096.3,900.2 L1096.6,903.2 L1096.9,906.2 L1097.1,909.2 L1097.4,912.2 L1097.7,915.2 L1098.0,918.2 L1098.3,921.2 L1098.6,924.1 L1098.9,927.1 L1099.3,930.1 L1099.6,933.1 L1099.9,936.1 L1100.3,939.1 L1100.6,942.0 L1100.9,945.0 L1101.3,948.0 L1101.6,951.0 L1102.0,954.0 L1102.3,957.0 L1102.6,959.9 L1102.9,962.9 L1103.3,965.9 L1103.6,968.9 L1103.9,971.9 L1104.2,974.9 L1104.6,977.9 L1104.9,980.8 L1105.2,983.8 L1105.6,986.8 L1105.9,989.8 L1106.2,992.8 L1106.6,995.8 L1107.0,998.7 L1107.3,1001.7 L1107.7,1004.7 L1108.1,1007.7 L1108.5,1010.6 L1108.9,1013.6 L1109.3,1016.6 L1109.7,1019.6 L1110.1,1022.5 L1110.5,1025.5 L1111.0,1028.5 L1111.4,1031.5 L1111.8,1034.4 L1112.3,1037.4 L1112.7,1040.4 L1113.2,1043.3 L1113.6,1046.3 L1114.0,1049.3 L1114.5,1052.3 L1114.9,1055.2 L1115.3,1058.2 L1115.8,1061.2 L1116.2,1064.1 L1116.7,1067.1 L1117.2,1070.1 L1117.7,1073.0 L1118.2,1076.0 L1118.8,1078.9 L1119.3,1081.9 L1119.9,1084.8 L1120.5,1087.8 L1121.2,1090.7 L1121.9,1093.6 L1122.6,1096.5 L1123.3,1099.4 L1124.1,1102.3 L1124.9,1105.2 L1125.8,1108.1 L1126.7,1111.0 L1127.6,1113.8 L1128.6,1116.6 L1129.6,1119.5 L1130.7,1122.3 L1131.8,1125.1 L1133.0,1127.8 L1134.2,1130.6 L1135.4,1133.3 L1136.7,1136.0 L1138.5,1138.4 L1140.6,1140.6 L1142.6,1142.8 L1144.6,1145.1 L1146.5,1147.4 L1148.6,1149.5 L1150.7,1151.7 L1152.9,1153.7 L1155.2,1155.6 L1157.5,1157.5 L1159.9,1159.4 L1162.3,1161.1 L1164.8,1162.9 L1167.3,1164.6 L1169.8,1166.2 L1172.3,1167.8 L1174.9,1169.4 L1177.4,1171.0 L1180.0,1172.5 L1182.6,1174.0 L1185.2,1175.4 L1187.9,1176.9 L1190.5,1178.3 L1193.2,1179.6 L1195.9,1181.0 L1198.6,1182.3 L1201.3,1183.6 L1204.0,1184.9 L1206.8,1186.1 L1209.5,1187.3 L1212.3,1188.5 L1215.1,1189.6 L1217.8,1190.7 L1220.6,1191.8 L1223.4,1192.9 L1226.2,1194.0 L1229.1,1195.0 L1231.9,1196.1 L1234.7,1197.1 L1237.5,1198.1 L1240.4,1199.1 L1243.2,1200.1 L1246.0,1201.0 L1248.9,1202.0 L1251.7,1203.0 L1254.6,1203.9 L1257.4,1204.9 L1260.2,1205.9 L1263.1,1206.8 L1265.9,1207.8 L1268.8,1208.7 L1271.6,1209.7 L1274.5,1210.6 L1277.4,1211.5 L1280.2,1212.4 L1283.1,1213.2 L1286.0,1214.1 L1288.9,1214.9 L1291.8,1215.8 L1294.7,1216.5 L1297.6,1217.3 L1300.5,1218.1 L1303.4,1218.8 L1306.3,1219.5 L1309.2,1220.2 L1312.1,1220.8 L1315.1,1221.5 L1318.0,1222.1 L1321.0,1222.7 L1323.9,1223.3 L1326.8,1223.9 L1329.8,1224.5 L1332.7,1225.0 L1335.7,1225.6 L1338.6,1226.1 L1341.6,1226.7 L1344.5,1227.2 L1347.5,1227.8 L1350.5,1228.3 L1353.4,1228.8 L1356.4,1229.3 L1359.3,1229.8 L1362.3,1230.4 L1365.2,1230.9 L1368.2,1231.4 L1371.2,1231.9 L1374.1,1232.3 L1377.1,1232.8 L1380.1,1233.3 L1383.0,1233.8 L1386.0,1234.2 L1389.0,1234.7 L1391.9,1235.2 L1394.9,1235.6 L1397.9,1236.1 L1400.8,1236.5 L1403.8,1237.0 L1406.8,1237.4 L1409.7,1237.9 L1412.7,1238.3 L1415.7,1238.8 L1418.6,1239.2 L1421.6,1239.6 L1424.6,1240.1 L1427.5,1240.5 L1430.5,1241.0 L1433.5,1241.4 L1436.4,1241.9 L1439.4,1242.4 L1442.4,1242.8 L1445.3,1243.3 L1448.3,1243.7 L1451.3,1244.2 L1454.3,1244.6 L1457.2,1245.1 L1460.2,1245.5 L1463.2,1246.0 L1466.1,1246.4 L1469.1,1246.9 L1472.1,1247.3 L1475.0,1247.8 L1478.0,1248.2 L1481.0,1248.6 L1484.0,1249.0 L1486.9,1249.4 L1489.9,1249.9 L1492.9,1250.3 L1495.8,1250.7 L1498.8,1251.1 L1501.8,1251.5 L1504.8,1251.9 L1507.7,1252.3 L1510.7,1252.7 L1513.7,1253.2 L1516.7,1253.6 L1519.6,1254.0 L1522.6,1254.4 L1525.6,1254.8 L1528.5,1255.3 L1531.5,1255.7 L1534.5,1256.1 L1537.5,1256.6 L1540.4,1257.0 L1543.4,1257.5 L1546.4,1257.9 L1549.3,1258.3 L1552.3,1258.8 L1555.3,1259.2 L1558.3,1259.6 L1561.2,1260.1 L1564.2,1260.5 L1567.2,1260.9 L1570.1,1261.4 L1573.1,1261.8 L1576.1,1262.2 L1579.1,1262.7 L1582.0,1263.1 L1585.0,1263.5 L1588.0,1263.9 L1590.9,1264.4 L1593.9,1264.8 L1596.9,1265.2 L1599.9,1265.6 L1602.8,1266.1 L1605.8,1266.5 L1608.8,1266.9 L1611.7,1267.3 L1614.7,1267.8 L1617.7,1268.2 L1620.7,1268.6 L1623.6,1269.1 L1626.6,1269.5 L1629.6,1270.0 L1632.5,1270.4 L1635.5,1270.8 L1638.5,1271.3 L1641.4,1271.7 L1644.4,1272.2 L1647.4,1272.6 L1650.4,1273.1 L1653.3,1273.5 L1656.3,1274.0 L1659.3,1274.4 L1662.2,1274.9 L1665.2,1275.3 L1668.2,1275.8 L1671.1,1276.2 L1674.1,1276.7 L1677.1,1277.1 L1680.0,1277.6 L1683.0,1278.0 L1686.0,1278.5 L1688.9,1278.9 L1691.9,1279.4 L1694.9,1279.8 L1697.8,1280.2 L1700.8,1280.7 L1703.8,1281.1 L1706.8,1281.5 L1709.7,1282.0 L1712.7,1282.4 L1715.7,1282.8 L1718.7,1283.2 L1721.6,1283.7 L1724.6,1284.1 L1727.6,1284.5 L1730.5,1285.0 L1733.5,1285.4 L1736.5,1285.9 L1739.4,1286.3 L1742.4,1286.8 L1745.4,1287.3 L1748.3,1287.7 L1751.3,1288.2 L1754.3,1288.7 L1757.2,1289.2 L1760.2,1289.7 L1763.1,1290.2 L1766.1,1290.7 L1769.1,1291.3 L1772.0,1291.8 L1775.0,1292.3 L1777.9,1292.8 L1780.9,1293.3 L1783.8,1293.9 L1786.8,1294.4 L1789.8,1294.9 L1792.7,1295.4 L1795.7,1295.9 L1798.6,1296.4 L1801.6,1296.9 L1804.5,1297.4 L1807.5,1298.0 L1810.5,1298.5 L1813.4,1299.0 L1816.4,1299.5 L1819.3,1300.0 L1822.3,1300.5 L1825.3,1301.0 L1828.2,1301.5 L1831.2,1302.0 L1834.1,1302.6 L1837.1,1303.1 L1840.0,1303.6 L1843.0,1304.1 L1846.0,1304.6 L1848.9,1305.2 L1851.9,1305.7 L1854.8,1306.2 L1857.8,1306.7 L1860.7,1307.2 L1863.7,1307.8 L1866.7,1308.3 L1869.6,1308.8 L1872.6,1309.3 L1875.5,1309.8 L1878.5,1310.2 L1881.5,1310.7 L1884.4,1311.2 L1887.4,1311.7 L1890.4,1312.1 L1893.3,1312.6 L1896.3,1313.1 L1899.3,1313.5 L1902.2,1314.0 L1905.2,1314.4 L1908.2,1314.9 L1911.1,1315.3 L1914.1,1315.8 L1917.1,1316.2 L1920.0,1316.7 L1923.0,1317.1 L1926.0,1317.6 L1928.9,1318.1 L1931.9,1318.5 L1934.9,1319.0 L1937.8,1319.4 L1940.8,1319.9 L1943.8,1320.4 L1946.7,1320.8 L1949.7,1321.3 L1952.7,1321.8 L1955.6,1322.2 L1958.6,1322.7 L1961.6,1323.2 L1964.5,1323.6 L1967.5,1324.1 L1970.5,1324.6 L1973.4,1325.0 L1976.4,1325.5 L1979.4,1325.9 L1982.3,1326.4 L1985.3,1326.8 L1988.3,1327.3 L1991.2,1327.8 L1994.2,1328.2 L1997.2,1328.7 L2000.1,1329.1 L2003.1,1329.6 L2006.1,1330.1 L2009.0,1330.5 L2012.0,1331.0"/>
</g>
<text transform="translate(303.0,1452.4) scale(1,1.015)" font-family="'Liberation Serif','Times New Roman',serif" font-size="86.0" text-anchor="end">0</text>
<text transform="translate(303.0,1315.8) scale(1,1.015)" font-family="'Liberation Serif','Times New Roman',serif" font-size="86.0" text-anchor="end">10</text>
<text transform="translate(303.0,1179.2) scale(1,1.015)" font-family="'Liberation Serif','Times New Roman',serif" font-size="86.0" text-anchor="end">20</text>
<text transform="translate(303.0,1042.6) scale(1,1.015)" font-family="'Liberation Serif','Times New Roman',serif" font-size="86.0" text-anchor="end">30</text>
<text transform="translate(303.0,906.0) scale(1,1.015)" font-family="'Liberation Serif','Times New Roman',serif" font-size="86.0" text-anchor="end">40</text>
<text transform="translate(303.0,769.4) scale(1,1.015)" font-family="'Liberation Serif','Times New Roman',serif" font-size="86.0" text-anchor="end">50</text>
<text transform="translate(303.0,632.8) scale(1,1.015)" font-family="'Liberation Serif','Times New Roman',serif" font-size="86.0" text-anchor="end">60</text>
<text transform="translate(303.0,496.2) scale(1,1.015)" font-family="'Liberation Serif','Times New Roman',serif" font-size="86.0" text-anchor="end">70</text>
<text transform="translate(303.0,359.6) scale(1,1.015)" font-family="'Liberation Serif','Times New Roman',serif" font-size="86.0" text-anchor="end">80</text>
<text transform="translate(303.0,223.0) scale(1,1.015)" font-family="'Liberation Serif','Times New Roman',serif" font-size="86.0" text-anchor="end">90</text>
<text transform="translate(303.0,90.0) scale(1,1.015)" font-family="'Liberation Serif','Times New Roman',serif" font-size="86.0" text-anchor="end">100</text>
<text transform="translate(375.5,1554.6) scale(1,1.015)" font-family="'Liberation Serif','Times New Roman',serif" font-size="86.0" text-anchor="middle">0</text>
<text transform="translate(608.1,1554.6) scale(1,1.015)" font-family="'Liberation Serif','Times New Roman',serif" font-size="86.0" text-anchor="middle">100</text>
<text transform="translate(840.8,1554.6) scale(1,1.015)" font-family="'Liberation Serif','Times New Roman',serif" font-size="86.0" text-anchor="middle">200</text>
<text transform="translate(1073.4,1554.6) scale(1,1.015)" font-family="'Liberation Serif','Times New Roman',serif" font-size="86.0" text-anchor="middle">300</text>
<text transform="translate(1306.1,1554.6) scale(1,1.015)" font-family="'Liberation Serif','Times New Roman',serif" font-size="86.0" text-anchor="middle">400</text>
<text transform="translate(1538.7,1554.6) scale(1,1.015)" font-family="'Liberation Serif','Times New Roman',serif" font-size="86.0" text-anchor="middle">500</text>
<text transform="translate(1771.4,1554.6) scale(1,1.015)" font-family="'Liberation Serif','Times New Roman',serif" font-size="86.0" text-anchor="middle">600</text>
<text transform="translate(2004.0,1554.6) scale(1,1.015)" font-family="'Liberation Serif','Times New Roman',serif" font-size="86.0" text-anchor="middle">700</text>
<text transform="translate(1205.0,1719.0) scale(1,1.015)" font-family="'Liberation Serif','Times New Roman',serif" font-size="86.0" text-anchor="middle">Temperature (°C)</text>
<text transform="translate(86,745) rotate(-90) scale(1,1.015)" font-family="'Liberation Serif','Times New Roman',serif" font-size="86" text-anchor="middle">Weight (%)</text>
<text transform="translate(1054.0,1867.5) scale(1,1.015)" font-family="'Liberation Serif','Times New Roman',serif" font-size="86.0" text-anchor="middle"><tspan>(</tspan><tspan font-weight="bold">A</tspan><tspan>)</tspan></text>
<line x1="1362" y1="130.2" x2="1499" y2="130.2" stroke="#000000" stroke-width="10.0" stroke-linecap="round"/>
<text transform="translate(1512.0,155.4) scale(1,1.020)" font-family="'Liberation Serif','Times New Roman',serif" font-size="87.2" text-anchor="start">MAL 0%</text>
<line x1="1362" y1="222.4" x2="1499" y2="222.4" stroke="#FF2200" stroke-width="10.0" stroke-linecap="round"/>
<text transform="translate(1512.0,247.6) scale(1,1.020)" font-family="'Liberation Serif','Times New Roman',serif" font-size="87.2" text-anchor="start">MAL 1%</text>
<line x1="1362" y1="314.6" x2="1499" y2="314.6" stroke="#FF1E98" stroke-width="9.5" stroke-linecap="round"/>
<text transform="translate(1512.0,339.8) scale(1,1.020)" font-family="'Liberation Serif','Times New Roman',serif" font-size="87.2" text-anchor="start">MAL 3%</text>
<line x1="1362" y1="406.8" x2="1499" y2="406.8" stroke="#781AA0" stroke-width="10.0" stroke-linecap="round"/>
<text transform="translate(1512.0,432.0) scale(1,1.020)" font-family="'Liberation Serif','Times New Roman',serif" font-size="87.2" text-anchor="start">MAL 5%</text>
<line x1="1362" y1="499.0" x2="1499" y2="499.0" stroke="#00AEEF" stroke-width="12.0" stroke-linecap="round"/>
<text transform="translate(1512.0,524.2) scale(1,1.020)" font-family="'Liberation Serif','Times New Roman',serif" font-size="87.2" text-anchor="start">MAL 10%</text>
</svg>
</body></html>
